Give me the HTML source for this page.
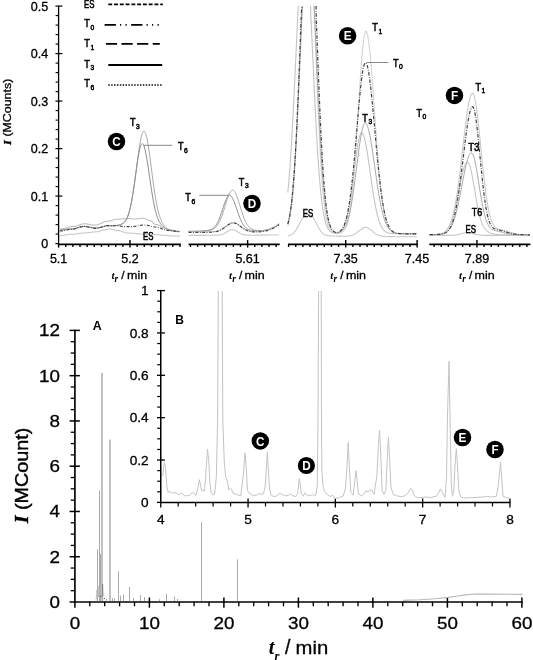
<!DOCTYPE html>
<html><head><meta charset="utf-8"><style>
html,body{margin:0;padding:0;background:#fff;width:533px;height:660px;overflow:hidden}
svg{display:block;will-change:transform}
</style></head><body>
<svg width="533" height="660" viewBox="0 0 533 660">
<rect width="533" height="660" fill="#fff"/>
<line x1="58.60" y1="5.70" x2="58.60" y2="244.90" stroke="#000" stroke-width="1.3" />
<line x1="55.40" y1="243.60" x2="58.60" y2="243.60" stroke="#000" stroke-width="1.2" />
<line x1="55.60" y1="234.10" x2="58.60" y2="234.10" stroke="#000" stroke-width="1.1" />
<line x1="55.60" y1="224.60" x2="58.60" y2="224.60" stroke="#000" stroke-width="1.1" />
<line x1="55.60" y1="215.10" x2="58.60" y2="215.10" stroke="#000" stroke-width="1.1" />
<line x1="55.60" y1="205.60" x2="58.60" y2="205.60" stroke="#000" stroke-width="1.1" />
<line x1="55.40" y1="196.10" x2="62.40" y2="196.10" stroke="#000" stroke-width="1.2" />
<line x1="55.60" y1="186.60" x2="58.60" y2="186.60" stroke="#000" stroke-width="1.1" />
<line x1="55.60" y1="177.10" x2="58.60" y2="177.10" stroke="#000" stroke-width="1.1" />
<line x1="55.60" y1="167.60" x2="58.60" y2="167.60" stroke="#000" stroke-width="1.1" />
<line x1="55.60" y1="158.10" x2="58.60" y2="158.10" stroke="#000" stroke-width="1.1" />
<line x1="55.40" y1="148.60" x2="62.40" y2="148.60" stroke="#000" stroke-width="1.2" />
<line x1="55.60" y1="139.10" x2="58.60" y2="139.10" stroke="#000" stroke-width="1.1" />
<line x1="55.60" y1="129.60" x2="58.60" y2="129.60" stroke="#000" stroke-width="1.1" />
<line x1="55.60" y1="120.10" x2="58.60" y2="120.10" stroke="#000" stroke-width="1.1" />
<line x1="55.60" y1="110.60" x2="58.60" y2="110.60" stroke="#000" stroke-width="1.1" />
<line x1="55.40" y1="101.10" x2="62.40" y2="101.10" stroke="#000" stroke-width="1.2" />
<line x1="55.60" y1="91.60" x2="58.60" y2="91.60" stroke="#000" stroke-width="1.1" />
<line x1="55.60" y1="82.10" x2="58.60" y2="82.10" stroke="#000" stroke-width="1.1" />
<line x1="55.60" y1="72.60" x2="58.60" y2="72.60" stroke="#000" stroke-width="1.1" />
<line x1="55.60" y1="63.10" x2="58.60" y2="63.10" stroke="#000" stroke-width="1.1" />
<line x1="55.40" y1="53.60" x2="62.40" y2="53.60" stroke="#000" stroke-width="1.2" />
<line x1="55.60" y1="44.10" x2="58.60" y2="44.10" stroke="#000" stroke-width="1.1" />
<line x1="55.60" y1="34.60" x2="58.60" y2="34.60" stroke="#000" stroke-width="1.1" />
<line x1="55.60" y1="25.10" x2="58.60" y2="25.10" stroke="#000" stroke-width="1.1" />
<line x1="55.60" y1="15.60" x2="58.60" y2="15.60" stroke="#000" stroke-width="1.1" />
<line x1="55.40" y1="6.10" x2="62.40" y2="6.10" stroke="#000" stroke-width="1.2" />
<text transform="translate(48.30,248.20) scale(1.03,1)" font-family="Liberation Sans" font-size="12.2" text-anchor="end" font-weight="normal" font-style="normal" fill="#000"  stroke="#000" stroke-width="0.3">0</text>
<text transform="translate(48.30,200.70) scale(1.03,1)" font-family="Liberation Sans" font-size="12.2" text-anchor="end" font-weight="normal" font-style="normal" fill="#000"  stroke="#000" stroke-width="0.3">0.1</text>
<text transform="translate(48.30,153.20) scale(1.03,1)" font-family="Liberation Sans" font-size="12.2" text-anchor="end" font-weight="normal" font-style="normal" fill="#000"  stroke="#000" stroke-width="0.3">0.2</text>
<text transform="translate(48.30,105.70) scale(1.03,1)" font-family="Liberation Sans" font-size="12.2" text-anchor="end" font-weight="normal" font-style="normal" fill="#000"  stroke="#000" stroke-width="0.3">0.3</text>
<text transform="translate(48.30,58.20) scale(1.03,1)" font-family="Liberation Sans" font-size="12.2" text-anchor="end" font-weight="normal" font-style="normal" fill="#000"  stroke="#000" stroke-width="0.3">0.4</text>
<text transform="translate(48.30,10.70) scale(1.03,1)" font-family="Liberation Sans" font-size="12.2" text-anchor="end" font-weight="normal" font-style="normal" fill="#000"  stroke="#000" stroke-width="0.3">0.5</text>
<text transform="translate(10.9,111.8) rotate(-90) scale(1.15,1)" font-family="Liberation Sans" font-size="10.8" stroke="#000" stroke-width="0.3" text-anchor="middle"><tspan font-family="Liberation Serif" font-style="italic" font-weight="bold">I</tspan> (MCounts)</text>
<text transform="translate(84.00,8.20) scale(0.74,1)" font-family="Liberation Sans" font-size="10.6" fill="#000" stroke="#000" stroke-width="0.55">ES</text>
<text transform="translate(84.30,27.30) scale(0.86,1)" font-family="Liberation Sans" font-size="10.6" fill="#000" stroke="#000" stroke-width="0.55">T<tspan font-size="7.8" dx="0.6" dy="2.5">0</tspan></text>
<text transform="translate(84.30,47.30) scale(0.86,1)" font-family="Liberation Sans" font-size="10.6" fill="#000" stroke="#000" stroke-width="0.55">T<tspan font-size="7.8" dx="0.6" dy="2.5">1</tspan></text>
<text transform="translate(84.30,67.80) scale(0.86,1)" font-family="Liberation Sans" font-size="10.6" fill="#000" stroke="#000" stroke-width="0.55">T<tspan font-size="7.8" dx="0.6" dy="2.5">3</tspan></text>
<text transform="translate(84.30,87.20) scale(0.86,1)" font-family="Liberation Sans" font-size="10.6" fill="#000" stroke="#000" stroke-width="0.55">T<tspan font-size="7.8" dx="0.6" dy="2.5">6</tspan></text>
<line x1="108.30" y1="4.30" x2="162.80" y2="4.30" stroke="#000" stroke-width="1.7" stroke-dasharray="3.9,1.87"/>
<line x1="104.60" y1="24.80" x2="158.80" y2="24.80" stroke="#000" stroke-width="1.7" stroke-dasharray="11.3,4.1,1.2,4.3,1.2,4.4"/>
<line x1="105.90" y1="43.80" x2="159.80" y2="43.80" stroke="#000" stroke-width="1.8" stroke-dasharray="11.2,4.4"/>
<line x1="108.30" y1="64.90" x2="162.20" y2="64.90" stroke="#000" stroke-width="2.0" />
<line x1="108.30" y1="85.00" x2="161.80" y2="85.00" stroke="#000" stroke-width="1.7" stroke-dasharray="1.45,1.43"/>
<line x1="58.00" y1="244.30" x2="180.80" y2="244.30" stroke="#000" stroke-width="1.7" />
<line x1="58.60" y1="244.30" x2="58.60" y2="247.60" stroke="#000" stroke-width="1.4" />
<line x1="65.74" y1="244.30" x2="65.74" y2="246.90" stroke="#000" stroke-width="1.4" />
<line x1="72.88" y1="244.30" x2="72.88" y2="246.90" stroke="#000" stroke-width="1.4" />
<line x1="80.02" y1="244.30" x2="80.02" y2="246.90" stroke="#000" stroke-width="1.4" />
<line x1="87.16" y1="244.30" x2="87.16" y2="246.90" stroke="#000" stroke-width="1.4" />
<line x1="94.30" y1="244.30" x2="94.30" y2="246.90" stroke="#000" stroke-width="1.4" />
<line x1="101.44" y1="244.30" x2="101.44" y2="246.90" stroke="#000" stroke-width="1.4" />
<line x1="108.58" y1="244.30" x2="108.58" y2="246.90" stroke="#000" stroke-width="1.4" />
<line x1="115.72" y1="244.30" x2="115.72" y2="246.90" stroke="#000" stroke-width="1.4" />
<line x1="122.86" y1="244.30" x2="122.86" y2="246.90" stroke="#000" stroke-width="1.4" />
<line x1="130.00" y1="240.10" x2="130.00" y2="247.60" stroke="#000" stroke-width="1.4" />
<line x1="137.14" y1="244.30" x2="137.14" y2="246.90" stroke="#000" stroke-width="1.4" />
<line x1="144.28" y1="244.30" x2="144.28" y2="246.90" stroke="#000" stroke-width="1.4" />
<line x1="151.42" y1="244.30" x2="151.42" y2="246.90" stroke="#000" stroke-width="1.4" />
<line x1="158.56" y1="244.30" x2="158.56" y2="246.90" stroke="#000" stroke-width="1.4" />
<line x1="165.70" y1="244.30" x2="165.70" y2="246.90" stroke="#000" stroke-width="1.4" />
<line x1="172.84" y1="244.30" x2="172.84" y2="246.90" stroke="#000" stroke-width="1.4" />
<line x1="179.98" y1="244.30" x2="179.98" y2="246.90" stroke="#000" stroke-width="1.4" />
<text transform="translate(58.60,263.40) scale(1.03,1)" font-family="Liberation Sans" font-size="12.2" text-anchor="middle" font-weight="normal" font-style="normal" fill="#000"  stroke="#000" stroke-width="0.3">5.1</text>
<text transform="translate(129.90,263.40) scale(1.03,1)" font-family="Liberation Sans" font-size="12.2" text-anchor="middle" font-weight="normal" font-style="normal" fill="#000"  stroke="#000" stroke-width="0.3">5.2</text>
<line x1="188.60" y1="244.30" x2="279.70" y2="244.30" stroke="#000" stroke-width="1.7" />
<line x1="190.50" y1="244.30" x2="190.50" y2="246.90" stroke="#000" stroke-width="1.4" />
<line x1="197.64" y1="244.30" x2="197.64" y2="246.90" stroke="#000" stroke-width="1.4" />
<line x1="204.78" y1="244.30" x2="204.78" y2="246.90" stroke="#000" stroke-width="1.4" />
<line x1="211.92" y1="244.30" x2="211.92" y2="246.90" stroke="#000" stroke-width="1.4" />
<line x1="219.06" y1="244.30" x2="219.06" y2="246.90" stroke="#000" stroke-width="1.4" />
<line x1="226.20" y1="244.30" x2="226.20" y2="246.90" stroke="#000" stroke-width="1.4" />
<line x1="233.34" y1="244.30" x2="233.34" y2="246.90" stroke="#000" stroke-width="1.4" />
<line x1="240.48" y1="244.30" x2="240.48" y2="246.90" stroke="#000" stroke-width="1.4" />
<line x1="247.62" y1="240.10" x2="247.62" y2="247.60" stroke="#000" stroke-width="1.4" />
<line x1="254.76" y1="244.30" x2="254.76" y2="246.90" stroke="#000" stroke-width="1.4" />
<line x1="261.90" y1="244.30" x2="261.90" y2="246.90" stroke="#000" stroke-width="1.4" />
<line x1="269.04" y1="244.30" x2="269.04" y2="246.90" stroke="#000" stroke-width="1.4" />
<line x1="276.18" y1="244.30" x2="276.18" y2="246.90" stroke="#000" stroke-width="1.4" />
<text transform="translate(247.60,263.40) scale(1.03,1)" font-family="Liberation Sans" font-size="12.2" text-anchor="middle" font-weight="normal" font-style="normal" fill="#000"  stroke="#000" stroke-width="0.3">5.61</text>
<line x1="288.00" y1="244.30" x2="417.60" y2="244.30" stroke="#000" stroke-width="1.7" />
<line x1="288.60" y1="244.30" x2="288.60" y2="246.90" stroke="#000" stroke-width="1.4" />
<line x1="295.74" y1="244.30" x2="295.74" y2="246.90" stroke="#000" stroke-width="1.4" />
<line x1="302.88" y1="244.30" x2="302.88" y2="246.90" stroke="#000" stroke-width="1.4" />
<line x1="310.02" y1="244.30" x2="310.02" y2="246.90" stroke="#000" stroke-width="1.4" />
<line x1="317.16" y1="244.30" x2="317.16" y2="246.90" stroke="#000" stroke-width="1.4" />
<line x1="324.30" y1="244.30" x2="324.30" y2="246.90" stroke="#000" stroke-width="1.4" />
<line x1="331.44" y1="244.30" x2="331.44" y2="246.90" stroke="#000" stroke-width="1.4" />
<line x1="338.58" y1="244.30" x2="338.58" y2="246.90" stroke="#000" stroke-width="1.4" />
<line x1="345.72" y1="240.10" x2="345.72" y2="247.60" stroke="#000" stroke-width="1.4" />
<line x1="352.86" y1="244.30" x2="352.86" y2="246.90" stroke="#000" stroke-width="1.4" />
<line x1="360.00" y1="244.30" x2="360.00" y2="246.90" stroke="#000" stroke-width="1.4" />
<line x1="367.14" y1="244.30" x2="367.14" y2="246.90" stroke="#000" stroke-width="1.4" />
<line x1="374.28" y1="244.30" x2="374.28" y2="246.90" stroke="#000" stroke-width="1.4" />
<line x1="381.42" y1="244.30" x2="381.42" y2="246.90" stroke="#000" stroke-width="1.4" />
<line x1="388.56" y1="244.30" x2="388.56" y2="246.90" stroke="#000" stroke-width="1.4" />
<line x1="395.70" y1="244.30" x2="395.70" y2="246.90" stroke="#000" stroke-width="1.4" />
<line x1="402.84" y1="244.30" x2="402.84" y2="246.90" stroke="#000" stroke-width="1.4" />
<line x1="409.98" y1="244.30" x2="409.98" y2="246.90" stroke="#000" stroke-width="1.4" />
<line x1="417.12" y1="240.10" x2="417.12" y2="247.60" stroke="#000" stroke-width="1.4" />
<text transform="translate(345.60,263.40) scale(1.03,1)" font-family="Liberation Sans" font-size="12.2" text-anchor="middle" font-weight="normal" font-style="normal" fill="#000"  stroke="#000" stroke-width="0.3">7.35</text>
<text transform="translate(417.00,263.40) scale(1.03,1)" font-family="Liberation Sans" font-size="12.2" text-anchor="middle" font-weight="normal" font-style="normal" fill="#000"  stroke="#000" stroke-width="0.3">7.45</text>
<line x1="429.30" y1="244.30" x2="530.40" y2="244.30" stroke="#000" stroke-width="1.7" />
<line x1="434.10" y1="244.30" x2="434.10" y2="246.90" stroke="#000" stroke-width="1.4" />
<line x1="441.24" y1="244.30" x2="441.24" y2="246.90" stroke="#000" stroke-width="1.4" />
<line x1="448.38" y1="244.30" x2="448.38" y2="246.90" stroke="#000" stroke-width="1.4" />
<line x1="455.52" y1="244.30" x2="455.52" y2="246.90" stroke="#000" stroke-width="1.4" />
<line x1="462.66" y1="244.30" x2="462.66" y2="246.90" stroke="#000" stroke-width="1.4" />
<line x1="469.80" y1="244.30" x2="469.80" y2="246.90" stroke="#000" stroke-width="1.4" />
<line x1="476.94" y1="240.10" x2="476.94" y2="247.60" stroke="#000" stroke-width="1.4" />
<line x1="484.08" y1="244.30" x2="484.08" y2="246.90" stroke="#000" stroke-width="1.4" />
<line x1="491.22" y1="244.30" x2="491.22" y2="246.90" stroke="#000" stroke-width="1.4" />
<line x1="498.36" y1="244.30" x2="498.36" y2="246.90" stroke="#000" stroke-width="1.4" />
<line x1="505.50" y1="244.30" x2="505.50" y2="246.90" stroke="#000" stroke-width="1.4" />
<line x1="512.64" y1="244.30" x2="512.64" y2="246.90" stroke="#000" stroke-width="1.4" />
<line x1="519.78" y1="244.30" x2="519.78" y2="246.90" stroke="#000" stroke-width="1.4" />
<line x1="526.92" y1="244.30" x2="526.92" y2="246.90" stroke="#000" stroke-width="1.4" />
<text transform="translate(477.00,263.40) scale(1.03,1)" font-family="Liberation Sans" font-size="12.2" text-anchor="middle" font-weight="normal" font-style="normal" fill="#000"  stroke="#000" stroke-width="0.3">7.89</text>
<text x="111.40" y="278.90" font-family="Liberation Serif" font-size="11" text-anchor="start" font-weight="bold" font-style="italic" fill="#000" >t</text>
<text x="114.60" y="282.10" font-family="Liberation Serif" font-size="9.4" text-anchor="start" font-weight="bold" font-style="italic" fill="#000" >r</text>
<text transform="translate(121.30,278.90) scale(1.05,1)" font-family="Liberation Sans" font-size="11.2" text-anchor="start" font-weight="normal" font-style="normal" fill="#000"  stroke="#000" stroke-width="0.3">/</text>
<text transform="translate(127.00,278.90) scale(1.07,1)" font-family="Liberation Sans" font-size="11.7" text-anchor="start" font-weight="normal" font-style="normal" fill="#000"  stroke="#000" stroke-width="0.3">min</text>
<text x="229.00" y="278.90" font-family="Liberation Serif" font-size="11" text-anchor="start" font-weight="bold" font-style="italic" fill="#000" >t</text>
<text x="232.20" y="282.10" font-family="Liberation Serif" font-size="9.4" text-anchor="start" font-weight="bold" font-style="italic" fill="#000" >r</text>
<text transform="translate(238.90,278.90) scale(1.05,1)" font-family="Liberation Sans" font-size="11.2" text-anchor="start" font-weight="normal" font-style="normal" fill="#000"  stroke="#000" stroke-width="0.3">/</text>
<text transform="translate(244.60,278.90) scale(1.07,1)" font-family="Liberation Sans" font-size="11.7" text-anchor="start" font-weight="normal" font-style="normal" fill="#000"  stroke="#000" stroke-width="0.3">min</text>
<text x="330.30" y="278.90" font-family="Liberation Serif" font-size="11" text-anchor="start" font-weight="bold" font-style="italic" fill="#000" >t</text>
<text x="333.50" y="282.10" font-family="Liberation Serif" font-size="9.4" text-anchor="start" font-weight="bold" font-style="italic" fill="#000" >r</text>
<text transform="translate(340.20,278.90) scale(1.05,1)" font-family="Liberation Sans" font-size="11.2" text-anchor="start" font-weight="normal" font-style="normal" fill="#000"  stroke="#000" stroke-width="0.3">/</text>
<text transform="translate(345.90,278.90) scale(1.07,1)" font-family="Liberation Sans" font-size="11.7" text-anchor="start" font-weight="normal" font-style="normal" fill="#000"  stroke="#000" stroke-width="0.3">min</text>
<text x="459.00" y="278.90" font-family="Liberation Serif" font-size="11" text-anchor="start" font-weight="bold" font-style="italic" fill="#000" >t</text>
<text x="462.20" y="282.10" font-family="Liberation Serif" font-size="9.4" text-anchor="start" font-weight="bold" font-style="italic" fill="#000" >r</text>
<text transform="translate(468.90,278.90) scale(1.05,1)" font-family="Liberation Sans" font-size="11.2" text-anchor="start" font-weight="normal" font-style="normal" fill="#000"  stroke="#000" stroke-width="0.3">/</text>
<text transform="translate(474.60,278.90) scale(1.07,1)" font-family="Liberation Sans" font-size="11.7" text-anchor="start" font-weight="normal" font-style="normal" fill="#000"  stroke="#000" stroke-width="0.3">min</text>
<path d="M59.80,235.60 L60.30,235.60 L60.80,235.59 L61.30,235.56 L61.80,235.53 L62.30,235.49 L62.80,235.43 L63.30,235.37 L63.80,235.30 L64.30,235.23 L64.80,235.15 L65.30,235.07 L65.80,234.98 L66.30,234.90 L66.80,234.81 L67.30,234.73 L67.80,234.65 L68.30,234.58 L68.80,234.52 L69.30,234.46 L69.80,234.40 L70.30,234.36 L70.80,234.33 L71.30,234.31 L71.80,234.30 L72.30,234.30 L72.80,234.29 L73.30,234.26 L73.80,234.23 L74.30,234.19 L74.80,234.14 L75.30,234.08 L75.80,234.02 L76.30,233.95 L76.80,233.87 L77.30,233.79 L77.80,233.71 L78.30,233.63 L78.80,233.54 L79.30,233.46 L79.80,233.38 L80.30,233.31 L80.80,233.24 L81.30,233.18 L81.80,233.13 L82.30,233.08 L82.80,233.05 L83.30,233.02 L83.80,233.01 L84.30,233.00 L84.80,233.00 L85.30,232.98 L85.80,232.96 L86.30,232.93 L86.80,232.89 L87.30,232.84 L87.80,232.78 L88.30,232.72 L88.80,232.66 L89.30,232.59 L89.80,232.51 L90.30,232.44 L90.80,232.36 L91.30,232.28 L91.80,232.20 L92.30,232.13 L92.80,232.06 L93.30,231.99 L93.80,231.93 L94.30,231.87 L94.80,231.82 L95.30,231.78 L95.80,231.75 L96.30,231.72 L96.80,231.71 L97.30,231.70 L97.80,231.68 L98.30,231.62 L98.80,231.52 L99.30,231.38 L99.80,231.20 L100.30,231.01 L100.80,230.81 L101.30,230.61 L101.80,230.43 L102.30,230.26 L102.80,230.13 L103.30,230.05 L103.80,230.00 L104.30,229.99 L104.80,229.94 L105.30,229.85 L105.80,229.73 L106.30,229.59 L106.80,229.44 L107.30,229.29 L107.80,229.17 L108.30,229.07 L108.80,229.01 L109.30,229.00 L109.80,229.02 L110.30,229.07 L110.80,229.14 L111.30,229.23 L111.80,229.34 L112.30,229.47 L112.80,229.60 L113.30,229.74 L113.80,229.88 L114.30,230.01 L114.80,230.13 L115.30,230.23 L115.80,230.31 L116.30,230.36 L116.80,230.40 L117.30,230.40 L117.80,230.43 L118.30,230.48 L118.80,230.55 L119.30,230.65 L119.80,230.77 L120.30,230.91 L120.80,231.07 L121.30,231.24 L121.80,231.42 L122.30,231.61 L122.80,231.79 L123.30,231.98 L123.80,232.16 L124.30,232.33 L124.80,232.49 L125.30,232.63 L125.80,232.75 L126.30,232.85 L126.80,232.92 L127.30,232.97 L127.80,233.00 L128.30,233.00 L128.80,233.01 L129.30,233.02 L129.80,233.04 L130.30,233.06 L130.80,233.09 L131.30,233.12 L131.80,233.16 L132.30,233.20 L132.80,233.24 L133.30,233.29 L133.80,233.34 L134.30,233.40 L134.80,233.45 L135.30,233.51 L135.80,233.56 L136.30,233.62 L136.80,233.67 L137.30,233.73 L137.80,233.78 L138.30,233.83 L138.80,233.88 L139.30,233.92 L139.80,233.96 L140.30,233.99 L140.80,234.02 L141.30,234.05 L141.80,234.07 L142.30,234.09 L142.80,234.10 L143.30,234.10 L143.80,234.10 L144.30,234.10 L144.80,234.11 L145.30,234.11 L145.80,234.12 L146.30,234.13 L146.80,234.14 L147.30,234.16 L147.80,234.17 L148.30,234.19 L148.80,234.21 L149.30,234.23 L149.80,234.25 L150.30,234.27 L150.80,234.30 L151.30,234.32 L151.80,234.35 L152.30,234.38 L152.80,234.41 L153.30,234.44 L153.80,234.47 L154.30,234.51 L154.80,234.54 L155.30,234.58 L155.80,234.61 L156.30,234.65 L156.80,234.69 L157.30,234.73 L157.80,234.77 L158.30,234.81 L158.80,234.85 L159.30,234.90 L159.80,234.94 L160.30,234.98 L160.80,235.02 L161.30,235.07 L161.80,235.11 L162.30,235.15 L162.80,235.19 L163.30,235.24 L163.80,235.28 L164.30,235.32 L164.80,235.36 L165.30,235.40 L165.80,235.44 L166.30,235.48 L166.80,235.52 L167.30,235.56 L167.80,235.60 L168.30,235.64 L168.80,235.67 L169.30,235.71 L169.80,235.74 L170.30,235.77 L170.80,235.80 L171.30,235.83 L171.80,235.86 L172.30,235.89 L172.80,235.92 L173.30,235.94 L173.80,235.96 L174.30,235.98 L174.80,236.00 L175.30,236.02 L175.80,236.04 L176.30,236.05 L176.80,236.06 L177.30,236.07 L177.80,236.08 L178.30,236.09 L178.80,236.09 L179.30,236.10 L179.80,236.10" fill="none" stroke="#c8c8c8" stroke-width="1.1" stroke-linejoin="round" />
<path d="M59.80,229.00 L60.30,229.00 L60.80,228.98 L61.30,228.94 L61.80,228.89 L62.30,228.83 L62.80,228.74 L63.30,228.65 L63.80,228.54 L64.30,228.43 L64.80,228.30 L65.30,228.16 L65.80,228.02 L66.30,227.88 L66.80,227.73 L67.30,227.58 L67.80,227.44 L68.30,227.29 L68.80,227.16 L69.30,227.02 L69.80,226.90 L70.30,226.79 L70.80,226.69 L71.30,226.60 L71.80,226.53 L72.30,226.48 L72.80,226.43 L73.30,226.41 L73.80,226.40 L74.30,226.39 L74.80,226.34 L75.30,226.27 L75.80,226.17 L76.30,226.05 L76.80,225.91 L77.30,225.75 L77.80,225.57 L78.30,225.39 L78.80,225.20 L79.30,225.00 L79.80,224.81 L80.30,224.63 L80.80,224.45 L81.30,224.29 L81.80,224.15 L82.30,224.03 L82.80,223.93 L83.30,223.86 L83.80,223.81 L84.30,223.80 L84.80,223.81 L85.30,223.83 L85.80,223.86 L86.30,223.91 L86.80,223.97 L87.30,224.04 L87.80,224.12 L88.30,224.21 L88.80,224.31 L89.30,224.40 L89.80,224.50 L90.30,224.59 L90.80,224.69 L91.30,224.78 L91.80,224.86 L92.30,224.93 L92.80,224.99 L93.30,225.04 L93.80,225.07 L94.30,225.09 L94.80,225.10 L95.30,225.09 L95.80,225.04 L96.30,224.98 L96.80,224.88 L97.30,224.76 L97.80,224.62 L98.30,224.45 L98.80,224.27 L99.30,224.07 L99.80,223.86 L100.30,223.64 L100.80,223.41 L101.30,223.17 L101.80,222.94 L102.30,222.71 L102.80,222.49 L103.30,222.27 L103.80,222.07 L104.30,221.88 L104.80,221.71 L105.30,221.57 L105.80,221.44 L106.30,221.34 L106.80,221.27 L107.30,221.22 L107.80,221.20 L108.30,221.19 L108.80,221.15 L109.30,221.09 L109.80,221.00 L110.30,220.88 L110.80,220.75 L111.30,220.60 L111.80,220.44 L112.30,220.27 L112.80,220.10 L113.30,219.93 L113.80,219.77 L114.30,219.62 L114.80,219.49 L115.30,219.38 L115.80,219.30 L116.30,219.24 L116.80,219.21 L117.30,219.20 L117.80,219.19 L118.30,219.18 L118.80,219.16 L119.30,219.13 L119.80,219.10 L120.30,219.06 L120.80,219.02 L121.30,218.97 L121.80,218.93 L122.30,218.88 L122.80,218.82 L123.30,218.77 L123.80,218.73 L124.30,218.68 L124.80,218.64 L125.30,218.60 L125.80,218.57 L126.30,218.54 L126.80,218.52 L127.30,218.51 L127.80,218.50 L128.30,218.50 L128.80,218.52 L129.30,218.56 L129.80,218.60 L130.30,218.66 L130.80,218.72 L131.30,218.79 L131.80,218.85 L132.30,218.91 L132.80,218.95 L133.30,218.98 L133.80,219.00 L134.30,219.00 L134.80,218.99 L135.30,218.97 L135.80,218.94 L136.30,218.90 L136.80,218.86 L137.30,218.81 L137.80,218.75 L138.30,218.70 L138.80,218.64 L139.30,218.58 L139.80,218.52 L140.30,218.47 L140.80,218.42 L141.30,218.38 L141.80,218.35 L142.30,218.32 L142.80,218.31 L143.30,218.30 L143.80,218.32 L144.30,218.40 L144.80,218.54 L145.30,218.72 L145.80,218.94 L146.30,219.19 L146.80,219.45 L147.30,219.71 L147.80,219.95 L148.30,220.16 L148.80,220.33 L149.30,220.44 L149.80,220.50 L150.30,220.53 L150.80,220.69 L151.30,221.00 L151.80,221.41 L152.30,221.91 L152.80,222.45 L153.30,222.99 L153.80,223.49 L154.30,223.90 L154.80,224.21 L155.30,224.37 L155.80,224.40 L156.30,224.44 L156.80,224.52 L157.30,224.63 L157.80,224.78 L158.30,224.97 L158.80,225.19 L159.30,225.43 L159.80,225.70 L160.30,225.99 L160.80,226.29 L161.30,226.60 L161.80,226.91 L162.30,227.23 L162.80,227.53 L163.30,227.83 L163.80,228.11 L164.30,228.37 L164.80,228.60 L165.30,228.81 L165.80,228.98 L166.30,229.12 L166.80,229.22 L167.30,229.28 L167.80,229.30 L168.30,229.31 L168.80,229.34 L169.30,229.39 L169.80,229.46 L170.30,229.54 L170.80,229.64 L171.30,229.76 L171.80,229.88 L172.30,230.02 L172.80,230.16 L173.30,230.32 L173.80,230.47 L174.30,230.62 L174.80,230.78 L175.30,230.92 L175.80,231.06 L176.30,231.20 L176.80,231.32 L177.30,231.42 L177.80,231.51 L178.30,231.59 L178.80,231.64 L179.30,231.68 L179.80,231.70" fill="none" stroke="#c0c0c0" stroke-width="1.1" stroke-linejoin="round" />
<path d="M59.80,230.00 L60.30,230.00 L60.80,229.99 L61.30,229.97 L61.80,229.94 L62.30,229.90 L62.80,229.85 L63.30,229.79 L63.80,229.73 L64.30,229.67 L64.80,229.60 L65.30,229.53 L65.80,229.46 L66.30,229.39 L66.80,229.32 L67.30,229.25 L67.80,229.19 L68.30,229.14 L68.80,229.10 L69.30,229.06 L69.80,229.03 L70.30,229.01 L70.80,229.00 L71.30,229.00 L71.80,228.98 L72.30,228.94 L72.80,228.88 L73.30,228.81 L73.80,228.72 L74.30,228.62 L74.80,228.51 L75.30,228.38 L75.80,228.25 L76.30,228.11 L76.80,227.96 L77.30,227.81 L77.80,227.66 L78.30,227.51 L78.80,227.36 L79.30,227.22 L79.80,227.09 L80.30,226.97 L80.80,226.86 L81.30,226.76 L81.80,226.67 L82.30,226.60 L82.80,226.55 L83.30,226.52 L83.80,226.50 L84.30,226.50 L84.80,226.52 L85.30,226.54 L85.80,226.58 L86.30,226.63 L86.80,226.69 L87.30,226.76 L87.80,226.84 L88.30,226.93 L88.80,227.02 L89.30,227.11 L89.80,227.21 L90.30,227.31 L90.80,227.40 L91.30,227.50 L91.80,227.59 L92.30,227.67 L92.80,227.75 L93.30,227.82 L93.80,227.88 L94.30,227.92 L94.80,227.96 L95.30,227.98 L95.80,227.99 L96.30,227.99 L96.80,227.97 L97.30,227.93 L97.80,227.88 L98.30,227.81 L98.80,227.73 L99.30,227.64 L99.80,227.53 L100.30,227.41 L100.80,227.29 L101.30,227.16 L101.80,227.03 L102.30,226.89 L102.80,226.76 L103.30,226.63 L103.80,226.50 L104.30,226.39 L104.80,226.28 L105.30,226.18 L105.80,226.09 L106.30,226.02 L106.80,225.97 L107.30,225.92 L107.80,225.90 L108.30,225.89 L108.80,225.88 L109.30,225.87 L109.80,225.86 L110.30,225.85 L110.80,225.85 L111.30,225.84 L111.80,225.83 L112.30,225.82 L112.80,225.81 L113.30,225.80 L113.80,225.78 L114.30,225.76 L114.80,225.73 L115.30,225.70 L115.80,225.66 L116.30,225.62 L116.80,225.56 L117.30,225.49 L117.80,225.41 L118.30,225.32 L118.80,225.22 L119.30,225.10 L119.80,224.96 L120.30,224.81 L120.80,224.63 L121.30,224.42 L121.80,224.17 L122.30,223.89 L122.80,223.56 L123.30,223.17 L123.80,222.72 L124.30,222.21 L124.80,221.61 L125.30,220.93 L125.80,220.15 L126.30,219.27 L126.80,218.28 L127.30,217.16 L127.80,215.90 L128.30,214.50 L128.80,212.95 L129.30,211.23 L129.80,209.35 L130.30,207.28 L130.80,205.03 L131.30,202.60 L131.80,199.98 L132.30,197.18 L132.80,194.20 L133.30,191.05 L133.80,187.74 L134.30,184.29 L134.80,180.71 L135.30,177.04 L135.80,173.28 L136.30,169.48 L136.80,165.67 L137.30,161.87 L137.80,158.13 L138.30,154.48 L138.80,150.97 L139.30,147.63 L139.80,144.50 L140.30,141.61 L140.80,139.02 L141.30,136.74 L141.80,134.80 L142.30,133.24 L142.80,132.08 L143.30,131.32 L143.80,130.99 L144.30,131.08 L144.80,131.60 L145.30,132.54 L145.80,133.88 L146.30,135.61 L146.80,137.71 L147.30,140.15 L147.80,142.90 L148.30,145.93 L148.80,149.20 L149.30,152.66 L149.80,156.29 L150.30,160.04 L150.80,163.87 L151.30,167.75 L151.80,171.64 L152.30,175.50 L152.80,179.31 L153.30,183.03 L153.80,186.64 L154.30,190.11 L154.80,193.44 L155.30,196.60 L155.80,199.59 L156.30,202.39 L156.80,205.01 L157.30,207.44 L157.80,209.67 L158.30,211.72 L158.80,213.59 L159.30,215.29 L159.80,216.82 L160.30,218.20 L160.80,219.45 L161.30,220.60 L161.80,221.64 L162.30,222.60 L162.80,223.47 L163.30,224.27 L163.80,225.00 L164.30,225.67 L164.80,226.28 L165.30,226.84 L165.80,227.36 L166.30,227.83 L166.80,228.26 L167.30,228.65 L167.80,229.01 L168.30,229.33 L168.80,229.61 L169.30,229.86 L169.80,230.07 L170.30,230.25 L170.80,230.39 L171.30,230.50 L171.80,230.57 L172.30,230.62 L172.80,230.68 L173.30,230.73 L173.80,230.79 L174.30,230.85 L174.80,230.92 L175.30,230.99 L175.80,231.06 L176.30,231.12 L176.80,231.19 L177.30,231.25 L177.80,231.30 L178.30,231.34 L178.80,231.38 L179.30,231.41 L179.80,231.43" fill="none" stroke="#a8a8a8" stroke-width="1.0" stroke-linejoin="round" />
<path d="M59.80,230.00 L60.30,230.00 L60.80,229.99 L61.30,229.97 L61.80,229.94 L62.30,229.90 L62.80,229.85 L63.30,229.79 L63.80,229.73 L64.30,229.67 L64.80,229.60 L65.30,229.53 L65.80,229.46 L66.30,229.39 L66.80,229.32 L67.30,229.25 L67.80,229.19 L68.30,229.14 L68.80,229.10 L69.30,229.06 L69.80,229.03 L70.30,229.01 L70.80,229.00 L71.30,229.00 L71.80,228.98 L72.30,228.94 L72.80,228.88 L73.30,228.81 L73.80,228.72 L74.30,228.62 L74.80,228.51 L75.30,228.38 L75.80,228.25 L76.30,228.11 L76.80,227.96 L77.30,227.81 L77.80,227.66 L78.30,227.51 L78.80,227.36 L79.30,227.22 L79.80,227.09 L80.30,226.97 L80.80,226.86 L81.30,226.76 L81.80,226.67 L82.30,226.60 L82.80,226.55 L83.30,226.52 L83.80,226.50 L84.30,226.50 L84.80,226.52 L85.30,226.54 L85.80,226.58 L86.30,226.63 L86.80,226.69 L87.30,226.76 L87.80,226.84 L88.30,226.93 L88.80,227.02 L89.30,227.11 L89.80,227.21 L90.30,227.31 L90.80,227.40 L91.30,227.50 L91.80,227.59 L92.30,227.67 L92.80,227.75 L93.30,227.82 L93.80,227.88 L94.30,227.92 L94.80,227.96 L95.30,227.98 L95.80,227.99 L96.30,227.99 L96.80,227.97 L97.30,227.93 L97.80,227.88 L98.30,227.81 L98.80,227.73 L99.30,227.63 L99.80,227.53 L100.30,227.41 L100.80,227.28 L101.30,227.15 L101.80,227.02 L102.30,226.89 L102.80,226.75 L103.30,226.62 L103.80,226.49 L104.30,226.37 L104.80,226.26 L105.30,226.16 L105.80,226.08 L106.30,226.00 L106.80,225.94 L107.30,225.89 L107.80,225.86 L108.30,225.85 L108.80,225.83 L109.30,225.82 L109.80,225.80 L110.30,225.79 L110.80,225.78 L111.30,225.76 L111.80,225.75 L112.30,225.73 L112.80,225.71 L113.30,225.68 L113.80,225.66 L114.30,225.63 L114.80,225.59 L115.30,225.55 L115.80,225.50 L116.30,225.44 L116.80,225.38 L117.30,225.30 L117.80,225.22 L118.30,225.12 L118.80,225.01 L119.30,224.90 L119.80,224.77 L120.30,224.62 L120.80,224.45 L121.30,224.26 L121.80,224.04 L122.30,223.79 L122.80,223.49 L123.30,223.14 L123.80,222.74 L124.30,222.27 L124.80,221.72 L125.30,221.09 L125.80,220.37 L126.30,219.54 L126.80,218.59 L127.30,217.52 L127.80,216.31 L128.30,214.94 L128.80,213.41 L129.30,211.71 L129.80,209.82 L130.30,207.74 L130.80,205.46 L131.30,202.99 L131.80,200.32 L132.30,197.46 L132.80,194.43 L133.30,191.23 L133.80,187.88 L134.30,184.41 L134.80,180.85 L135.30,177.22 L135.80,173.57 L136.30,169.94 L136.80,166.37 L137.30,162.90 L137.80,159.59 L138.30,156.47 L138.80,153.61 L139.30,151.03 L139.80,148.79 L140.30,146.91 L140.80,145.44 L141.30,144.38 L141.80,143.78 L142.30,143.63 L142.80,143.90 L143.30,144.55 L143.80,145.58 L144.30,146.97 L144.80,148.71 L145.30,150.76 L145.80,153.11 L146.30,155.72 L146.80,158.56 L147.30,161.59 L147.80,164.78 L148.30,168.09 L148.80,171.49 L149.30,174.94 L149.80,178.40 L150.30,181.84 L150.80,185.24 L151.30,188.56 L151.80,191.78 L152.30,194.89 L152.80,197.86 L153.30,200.68 L153.80,203.34 L154.30,205.83 L154.80,208.16 L155.30,210.31 L155.80,212.29 L156.30,214.10 L156.80,215.74 L157.30,217.23 L157.80,218.57 L158.30,219.77 L158.80,220.84 L159.30,221.79 L159.80,222.62 L160.30,223.36 L160.80,224.02 L161.30,224.63 L161.80,225.20 L162.30,225.72 L162.80,226.20 L163.30,226.65 L163.80,227.07 L164.30,227.47 L164.80,227.85 L165.30,228.21 L165.80,228.54 L166.30,228.86 L166.80,229.16 L167.30,229.44 L167.80,229.69 L168.30,229.92 L168.80,230.13 L169.30,230.32 L169.80,230.48 L170.30,230.61 L170.80,230.71 L171.30,230.78 L171.80,230.83 L172.30,230.85 L172.80,230.88 L173.30,230.92 L173.80,230.96 L174.30,231.01 L174.80,231.06 L175.30,231.11 L175.80,231.17 L176.30,231.23 L176.80,231.28 L177.30,231.33 L177.80,231.38 L178.30,231.42 L178.80,231.45 L179.30,231.47 L179.80,231.48" fill="none" stroke="#8a8a8a" stroke-width="1.0" stroke-linejoin="round" />
<path d="M59.80,231.00 L60.30,231.00 L60.80,230.98 L61.30,230.95 L61.80,230.90 L62.30,230.84 L62.80,230.76 L63.30,230.68 L63.80,230.58 L64.30,230.48 L64.80,230.37 L65.30,230.26 L65.80,230.14 L66.30,230.03 L66.80,229.92 L67.30,229.82 L67.80,229.72 L68.30,229.64 L68.80,229.56 L69.30,229.50 L69.80,229.45 L70.30,229.42 L70.80,229.40 L71.30,229.40 L71.80,229.38 L72.30,229.34 L72.80,229.28 L73.30,229.20 L73.80,229.10 L74.30,228.99 L74.80,228.86 L75.30,228.71 L75.80,228.56 L76.30,228.39 L76.80,228.22 L77.30,228.04 L77.80,227.86 L78.30,227.69 L78.80,227.51 L79.30,227.34 L79.80,227.18 L80.30,227.03 L80.80,226.89 L81.30,226.77 L81.80,226.66 L82.30,226.57 L82.80,226.49 L83.30,226.44 L83.80,226.41 L84.30,226.40 L84.80,226.41 L85.30,226.44 L85.80,226.48 L86.30,226.54 L86.80,226.61 L87.30,226.70 L87.80,226.80 L88.30,226.92 L88.80,227.04 L89.30,227.16 L89.80,227.29 L90.30,227.43 L90.80,227.56 L91.30,227.69 L91.80,227.81 L92.30,227.93 L92.80,228.04 L93.30,228.13 L93.80,228.22 L94.30,228.29 L94.80,228.34 L95.30,228.38 L95.80,228.40 L96.30,228.40 L96.80,228.37 L97.30,228.33 L97.80,228.25 L98.30,228.16 L98.80,228.04 L99.30,227.90 L99.80,227.75 L100.30,227.58 L100.80,227.41 L101.30,227.22 L101.80,227.03 L102.30,226.83 L102.80,226.64 L103.30,226.46 L103.80,226.28 L104.30,226.12 L104.80,225.97 L105.30,225.83 L105.80,225.72 L106.30,225.63 L106.80,225.56 L107.30,225.52 L107.80,225.50 L108.30,225.50 L108.80,225.51 L109.30,225.52 L109.80,225.53 L110.30,225.55 L110.80,225.57 L111.30,225.59 L111.80,225.61 L112.30,225.64 L112.80,225.67 L113.30,225.69 L113.80,225.71 L114.30,225.74 L114.80,225.76 L115.30,225.77 L115.80,225.79 L116.30,225.79 L116.80,225.80 L117.30,225.80 L117.80,225.82 L118.30,225.86 L118.80,225.91 L119.30,225.98 L119.80,226.07 L120.30,226.15 L120.80,226.25 L121.30,226.33 L121.80,226.42 L122.30,226.49 L122.80,226.54 L123.30,226.58 L123.80,226.60 L124.30,226.60 L124.80,226.60 L125.30,226.60 L125.80,226.60 L126.30,226.60 L126.80,226.60 L127.30,226.60 L127.80,226.60 L128.30,226.60 L128.80,226.60 L129.30,226.60 L129.80,226.60 L130.30,226.60 L130.80,226.60 L131.30,226.60 L131.80,226.59 L132.30,226.57 L132.80,226.54 L133.30,226.50 L133.80,226.46 L134.30,226.40 L134.80,226.33 L135.30,226.26 L135.80,226.18 L136.30,226.09 L136.80,226.00 L137.30,225.91 L137.80,225.82 L138.30,225.73 L138.80,225.63 L139.30,225.54 L139.80,225.46 L140.30,225.37 L140.80,225.30 L141.30,225.23 L141.80,225.17 L142.30,225.11 L142.80,225.07 L143.30,225.04 L143.80,225.01 L144.30,225.00 L144.80,225.00 L145.30,225.02 L145.80,225.06 L146.30,225.12 L146.80,225.19 L147.30,225.28 L147.80,225.39 L148.30,225.51 L148.80,225.64 L149.30,225.77 L149.80,225.91 L150.30,226.06 L150.80,226.20 L151.30,226.34 L151.80,226.47 L152.30,226.59 L152.80,226.70 L153.30,226.79 L153.80,226.87 L154.30,226.93 L154.80,226.97 L155.30,227.00 L155.80,227.00 L156.30,227.03 L156.80,227.08 L157.30,227.17 L157.80,227.27 L158.30,227.41 L158.80,227.56 L159.30,227.74 L159.80,227.93 L160.30,228.13 L160.80,228.35 L161.30,228.57 L161.80,228.80 L162.30,229.02 L162.80,229.24 L163.30,229.45 L163.80,229.65 L164.30,229.84 L164.80,230.00 L165.30,230.15 L165.80,230.27 L166.30,230.37 L166.80,230.44 L167.30,230.49 L167.80,230.50 L168.30,230.50 L168.80,230.52 L169.30,230.54 L169.80,230.58 L170.30,230.62 L170.80,230.67 L171.30,230.73 L171.80,230.79 L172.30,230.86 L172.80,230.93 L173.30,231.01 L173.80,231.08 L174.30,231.16 L174.80,231.24 L175.30,231.31 L175.80,231.38 L176.30,231.45 L176.80,231.51 L177.30,231.56 L177.80,231.61 L178.30,231.64 L178.80,231.67 L179.30,231.69 L179.80,231.70" fill="none" stroke="#404040" stroke-width="1.1" stroke-dasharray="3,1.5,0.8,1.5" stroke-linejoin="round" />
<path d="M188.60,235.40 L189.10,235.40 L189.60,235.40 L190.10,235.40 L190.60,235.40 L191.10,235.40 L191.60,235.40 L192.10,235.39 L192.60,235.39 L193.10,235.39 L193.60,235.39 L194.10,235.39 L194.60,235.39 L195.10,235.38 L195.60,235.38 L196.10,235.38 L196.60,235.38 L197.10,235.37 L197.60,235.37 L198.10,235.37 L198.60,235.37 L199.10,235.36 L199.60,235.36 L200.10,235.36 L200.60,235.36 L201.10,235.35 L201.60,235.35 L202.10,235.35 L202.60,235.34 L203.10,235.34 L203.60,235.34 L204.10,235.34 L204.60,235.33 L205.10,235.33 L205.60,235.33 L206.10,235.32 L206.60,235.32 L207.10,235.32 L207.60,235.32 L208.10,235.32 L208.60,235.31 L209.10,235.31 L209.60,235.31 L210.10,235.31 L210.60,235.31 L211.10,235.30 L211.60,235.30 L212.10,235.30 L212.60,235.30 L213.10,235.29 L213.60,235.29 L214.10,235.28 L214.60,235.28 L215.10,235.27 L215.60,235.26 L216.10,235.25 L216.60,235.23 L217.10,235.21 L217.60,235.18 L218.10,235.14 L218.60,235.10 L219.10,235.04 L219.60,234.98 L220.10,234.90 L220.60,234.80 L221.10,234.69 L221.60,234.56 L222.10,234.41 L222.60,234.24 L223.10,234.04 L223.60,233.83 L224.10,233.59 L224.60,233.33 L225.10,233.05 L225.60,232.76 L226.10,232.45 L226.60,232.13 L227.10,231.81 L227.60,231.49 L228.10,231.17 L228.60,230.87 L229.10,230.59 L229.60,230.34 L230.10,230.12 L230.60,229.94 L231.10,229.79 L231.60,229.70 L232.10,229.65 L232.60,229.65 L233.10,229.71 L233.60,229.81 L234.10,229.95 L234.60,230.14 L235.10,230.36 L235.60,230.62 L236.10,230.90 L236.60,231.20 L237.10,231.51 L237.60,231.83 L238.10,232.14 L238.60,232.46 L239.10,232.76 L239.60,233.05 L240.10,233.32 L240.60,233.57 L241.10,233.80 L241.60,234.01 L242.10,234.19 L242.60,234.36 L243.10,234.50 L243.60,234.63 L244.10,234.73 L244.60,234.82 L245.10,234.90 L245.60,234.96 L246.10,235.01 L246.60,235.05 L247.10,235.09 L247.60,235.11 L248.10,235.13 L248.60,235.15 L249.10,235.16 L249.60,235.17 L250.10,235.18 L250.60,235.18 L251.10,235.19 L251.60,235.19 L252.10,235.19 L252.60,235.19 L253.10,235.19 L253.60,235.18 L254.10,235.18 L254.60,235.18 L255.10,235.18 L255.60,235.17 L256.10,235.17 L256.60,235.17 L257.10,235.16 L257.60,235.16 L258.10,235.15 L258.60,235.15 L259.10,235.15 L259.60,235.14 L260.10,235.14 L260.60,235.13 L261.10,235.13 L261.60,235.12 L262.10,235.12 L262.60,235.11 L263.10,235.11 L263.60,235.10 L264.10,235.10 L264.60,235.09 L265.10,235.09 L265.60,235.08 L266.10,235.08 L266.60,235.07 L267.10,235.07 L267.60,235.07 L268.10,235.06 L268.60,235.06 L269.10,235.05 L269.60,235.05 L270.10,235.04 L270.60,235.04 L271.10,235.04 L271.60,235.03 L272.10,235.03 L272.60,235.03 L273.10,235.02 L273.60,235.02 L274.10,235.02 L274.60,235.01 L275.10,235.01 L275.60,235.01 L276.10,235.01 L276.60,235.01 L277.10,235.00 L277.60,235.00 L278.10,235.00 L278.60,235.00 L279.10,235.00" fill="none" stroke="#c8c8c8" stroke-width="1.1" stroke-linejoin="round" />
<path d="M188.60,231.38 L189.10,231.37 L189.60,231.37 L190.10,231.37 L190.60,231.36 L191.10,231.36 L191.60,231.35 L192.10,231.35 L192.60,231.34 L193.10,231.34 L193.60,231.33 L194.10,231.32 L194.60,231.32 L195.10,231.31 L195.60,231.30 L196.10,231.29 L196.60,231.28 L197.10,231.27 L197.60,231.25 L198.10,231.24 L198.60,231.22 L199.10,231.21 L199.60,231.19 L200.10,231.17 L200.60,231.15 L201.10,231.13 L201.60,231.11 L202.10,231.09 L202.60,231.06 L203.10,231.03 L203.60,231.00 L204.10,230.97 L204.60,230.93 L205.10,230.89 L205.60,230.85 L206.10,230.81 L206.60,230.75 L207.10,230.70 L207.60,230.63 L208.10,230.56 L208.60,230.49 L209.10,230.40 L209.60,230.30 L210.10,230.19 L210.60,230.06 L211.10,229.91 L211.60,229.75 L212.10,229.56 L212.60,229.35 L213.10,229.11 L213.60,228.84 L214.10,228.53 L214.60,228.18 L215.10,227.78 L215.60,227.34 L216.10,226.84 L216.60,226.28 L217.10,225.67 L217.60,224.98 L218.10,224.23 L218.60,223.40 L219.10,222.49 L219.60,221.51 L220.10,220.45 L220.60,219.30 L221.10,218.08 L221.60,216.78 L222.10,215.42 L222.60,213.98 L223.10,212.48 L223.60,210.94 L224.10,209.35 L224.60,207.73 L225.10,206.09 L225.60,204.45 L226.10,202.82 L226.60,201.22 L227.10,199.67 L227.60,198.17 L228.10,196.76 L228.60,195.44 L229.10,194.23 L229.60,193.15 L230.10,192.21 L230.60,191.43 L231.10,190.81 L231.60,190.36 L232.10,190.09 L232.60,190.00 L233.10,190.10 L233.60,190.38 L234.10,190.84 L234.60,191.47 L235.10,192.26 L235.60,193.21 L236.10,194.30 L236.60,195.51 L237.10,196.84 L237.60,198.26 L238.10,199.76 L238.60,201.32 L239.10,202.93 L239.60,204.56 L240.10,206.21 L240.60,207.85 L241.10,209.47 L241.60,211.07 L242.10,212.62 L242.60,214.12 L243.10,215.56 L243.60,216.93 L244.10,218.23 L244.60,219.45 L245.10,220.59 L245.60,221.66 L246.10,222.64 L246.60,223.54 L247.10,224.37 L247.60,225.12 L248.10,225.80 L248.60,226.42 L249.10,226.97 L249.60,227.46 L250.10,227.90 L250.60,228.29 L251.10,228.63 L251.60,228.93 L252.10,229.19 L252.60,229.42 L253.10,229.62 L253.60,229.79 L254.10,229.94 L254.60,230.07 L255.10,230.17 L255.60,230.27 L256.10,230.34 L256.60,230.41 L257.10,230.46 L257.60,230.50 L258.10,230.53 L258.60,230.55 L259.10,230.56 L259.60,230.56 L260.10,230.56 L260.60,230.55 L261.10,230.53 L261.60,230.50 L262.10,230.46 L262.60,230.42 L263.10,230.37 L263.60,230.31 L264.10,230.24 L264.60,230.17 L265.10,230.08 L265.60,229.99 L266.10,229.88 L266.60,229.77 L267.10,229.64 L267.60,229.51 L268.10,229.37 L268.60,229.21 L269.10,229.04 L269.60,228.87 L270.10,228.68 L270.60,228.48 L271.10,228.27 L271.60,228.04 L272.10,227.81 L272.60,227.57 L273.10,227.31 L273.60,227.04 L274.10,226.77 L274.60,226.48 L275.10,226.18 L275.60,225.87 L276.10,225.56 L276.60,225.24 L277.10,224.91 L277.60,224.57 L278.10,224.23 L278.60,223.88 L279.10,223.53" fill="none" stroke="#a8a8a8" stroke-width="1.0" stroke-linejoin="round" />
<path d="M188.60,231.38 L189.10,231.38 L189.60,231.38 L190.10,231.37 L190.60,231.37 L191.10,231.37 L191.60,231.36 L192.10,231.36 L192.60,231.35 L193.10,231.35 L193.60,231.34 L194.10,231.33 L194.60,231.33 L195.10,231.32 L195.60,231.31 L196.10,231.30 L196.60,231.29 L197.10,231.28 L197.60,231.27 L198.10,231.25 L198.60,231.24 L199.10,231.22 L199.60,231.20 L200.10,231.18 L200.60,231.16 L201.10,231.14 L201.60,231.12 L202.10,231.09 L202.60,231.06 L203.10,231.03 L203.60,231.00 L204.10,230.96 L204.60,230.92 L205.10,230.87 L205.60,230.82 L206.10,230.76 L206.60,230.70 L207.10,230.63 L207.60,230.54 L208.10,230.45 L208.60,230.34 L209.10,230.22 L209.60,230.09 L210.10,229.93 L210.60,229.75 L211.10,229.54 L211.60,229.30 L212.10,229.03 L212.60,228.72 L213.10,228.37 L213.60,227.97 L214.10,227.52 L214.60,227.01 L215.10,226.44 L215.60,225.80 L216.10,225.09 L216.60,224.31 L217.10,223.46 L217.60,222.52 L218.10,221.51 L218.60,220.41 L219.10,219.24 L219.60,218.00 L220.10,216.68 L220.60,215.30 L221.10,213.87 L221.60,212.40 L222.10,210.89 L222.60,209.36 L223.10,207.83 L223.60,206.32 L224.10,204.83 L224.60,203.39 L225.10,202.01 L225.60,200.73 L226.10,199.54 L226.60,198.47 L227.10,197.54 L227.60,196.75 L228.10,196.13 L228.60,195.67 L229.10,195.40 L229.60,195.30 L230.10,195.38 L230.60,195.64 L231.10,196.06 L231.60,196.65 L232.10,197.38 L232.60,198.26 L233.10,199.27 L233.60,200.40 L234.10,201.62 L234.60,202.93 L235.10,204.31 L235.60,205.74 L236.10,207.20 L236.60,208.69 L237.10,210.17 L237.60,211.64 L238.10,213.09 L238.60,214.51 L239.10,215.87 L239.60,217.18 L240.10,218.43 L240.60,219.62 L241.10,220.73 L241.60,221.77 L242.10,222.73 L242.60,223.62 L243.10,224.44 L243.60,225.18 L244.10,225.86 L244.60,226.47 L245.10,227.01 L245.60,227.50 L246.10,227.94 L246.60,228.33 L247.10,228.67 L247.60,228.97 L248.10,229.24 L248.60,229.47 L249.10,229.68 L249.60,229.85 L250.10,230.01 L250.60,230.14 L251.10,230.26 L251.60,230.37 L252.10,230.45 L252.60,230.53 L253.10,230.60 L253.60,230.66 L254.10,230.70 L254.60,230.75 L255.10,230.78 L255.60,230.81 L256.10,230.83 L256.60,230.85 L257.10,230.86 L257.60,230.87 L258.10,230.87 L258.60,230.87 L259.10,230.86 L259.60,230.85 L260.10,230.83 L260.60,230.80 L261.10,230.77 L261.60,230.74 L262.10,230.70 L262.60,230.65 L263.10,230.59 L263.60,230.53 L264.10,230.47 L264.60,230.39 L265.10,230.31 L265.60,230.22 L266.10,230.12 L266.60,230.01 L267.10,229.90 L267.60,229.77 L268.10,229.64 L268.60,229.50 L269.10,229.34 L269.60,229.18 L270.10,229.01 L270.60,228.83 L271.10,228.64 L271.60,228.44 L272.10,228.22 L272.60,228.00 L273.10,227.77 L273.60,227.53 L274.10,227.28 L274.60,227.02 L275.10,226.76 L275.60,226.48 L276.10,226.20 L276.60,225.91 L277.10,225.61 L277.60,225.31 L278.10,225.01 L278.60,224.70 L279.10,224.38" fill="none" stroke="#8a8a8a" stroke-width="1.0" stroke-linejoin="round" />
<path d="M188.60,231.80 L189.10,231.80 L189.60,231.80 L190.10,231.80 L190.60,231.80 L191.10,231.80 L191.60,231.80 L192.10,231.80 L192.60,231.80 L193.10,231.80 L193.60,231.80 L194.10,231.80 L194.60,231.80 L195.10,231.80 L195.60,231.80 L196.10,231.80 L196.60,231.80 L197.10,231.80 L197.60,231.80 L198.10,231.80 L198.60,231.80 L199.10,231.80 L199.60,231.80 L200.10,231.80 L200.60,231.80 L201.10,231.80 L201.60,231.80 L202.10,231.80 L202.60,231.80 L203.10,231.80 L203.60,231.80 L204.10,231.80 L204.60,231.80 L205.10,231.79 L205.60,231.79 L206.10,231.79 L206.60,231.79 L207.10,231.78 L207.60,231.78 L208.10,231.78 L208.60,231.77 L209.10,231.76 L209.60,231.75 L210.10,231.74 L210.60,231.73 L211.10,231.71 L211.60,231.69 L212.10,231.66 L212.60,231.63 L213.10,231.60 L213.60,231.56 L214.10,231.51 L214.60,231.45 L215.10,231.38 L215.60,231.31 L216.10,231.22 L216.60,231.12 L217.10,231.01 L217.60,230.88 L218.10,230.74 L218.60,230.58 L219.10,230.41 L219.60,230.21 L220.10,230.00 L220.60,229.77 L221.10,229.52 L221.60,229.25 L222.10,228.97 L222.60,228.66 L223.10,228.34 L223.60,228.01 L224.10,227.66 L224.60,227.30 L225.10,226.94 L225.60,226.57 L226.10,226.19 L226.60,225.82 L227.10,225.45 L227.60,225.09 L228.10,224.75 L228.60,224.42 L229.10,224.11 L229.60,223.83 L230.10,223.58 L230.60,223.35 L231.10,223.16 L231.60,223.01 L232.10,222.90 L232.60,222.83 L233.10,222.80 L233.60,222.81 L234.10,222.87 L234.60,222.96 L235.10,223.10 L235.60,223.27 L236.10,223.48 L236.60,223.72 L237.10,224.00 L237.60,224.29 L238.10,224.61 L238.60,224.95 L239.10,225.31 L239.60,225.67 L240.10,226.04 L240.60,226.41 L241.10,226.79 L241.60,227.16 L242.10,227.52 L242.60,227.87 L243.10,228.21 L243.60,228.53 L244.10,228.84 L244.60,229.14 L245.10,229.41 L245.60,229.67 L246.10,229.90 L246.60,230.12 L247.10,230.32 L247.60,230.50 L248.10,230.66 L248.60,230.81 L249.10,230.94 L249.60,231.05 L250.10,231.15 L250.60,231.24 L251.10,231.31 L251.60,231.38 L252.10,231.43 L252.60,231.48 L253.10,231.51 L253.60,231.54 L254.10,231.56 L254.60,231.57 L255.10,231.58 L255.60,231.58 L256.10,231.58 L256.60,231.57 L257.10,231.56 L257.60,231.54 L258.10,231.52 L258.60,231.50 L259.10,231.47 L259.60,231.43 L260.10,231.40 L260.60,231.35 L261.10,231.30 L261.60,231.25 L262.10,231.19 L262.60,231.13 L263.10,231.06 L263.60,230.98 L264.10,230.89 L264.60,230.80 L265.10,230.71 L265.60,230.60 L266.10,230.49 L266.60,230.36 L267.10,230.23 L267.60,230.09 L268.10,229.94 L268.60,229.78 L269.10,229.61 L269.60,229.44 L270.10,229.25 L270.60,229.05 L271.10,228.84 L271.60,228.62 L272.10,228.39 L272.60,228.15 L273.10,227.89 L273.60,227.63 L274.10,227.36 L274.60,227.08 L275.10,226.79 L275.60,226.49 L276.10,226.19 L276.60,225.87 L277.10,225.55 L277.60,225.23 L278.10,224.90 L278.60,224.56 L279.10,224.22" fill="none" stroke="#c0c0c0" stroke-width="1.1" stroke-linejoin="round" />
<path d="M188.60,232.40 L189.10,232.40 L189.60,232.40 L190.10,232.40 L190.60,232.40 L191.10,232.40 L191.60,232.40 L192.10,232.40 L192.60,232.40 L193.10,232.40 L193.60,232.40 L194.10,232.40 L194.60,232.40 L195.10,232.40 L195.60,232.40 L196.10,232.40 L196.60,232.40 L197.10,232.40 L197.60,232.39 L198.10,232.39 L198.60,232.39 L199.10,232.39 L199.60,232.39 L200.10,232.39 L200.60,232.39 L201.10,232.39 L201.60,232.39 L202.10,232.39 L202.60,232.39 L203.10,232.38 L203.60,232.38 L204.10,232.38 L204.60,232.38 L205.10,232.38 L205.60,232.37 L206.10,232.37 L206.60,232.36 L207.10,232.36 L207.60,232.35 L208.10,232.34 L208.60,232.33 L209.10,232.32 L209.60,232.31 L210.10,232.29 L210.60,232.27 L211.10,232.25 L211.60,232.22 L212.10,232.19 L212.60,232.15 L213.10,232.11 L213.60,232.06 L214.10,232.00 L214.60,231.93 L215.10,231.85 L215.60,231.76 L216.10,231.66 L216.60,231.54 L217.10,231.42 L217.60,231.27 L218.10,231.11 L218.60,230.94 L219.10,230.74 L219.60,230.53 L220.10,230.30 L220.60,230.05 L221.10,229.78 L221.60,229.50 L222.10,229.20 L222.60,228.88 L223.10,228.54 L223.60,228.19 L224.10,227.83 L224.60,227.46 L225.10,227.08 L225.60,226.70 L226.10,226.32 L226.60,225.94 L227.10,225.57 L227.60,225.21 L228.10,224.86 L228.60,224.53 L229.10,224.22 L229.60,223.94 L230.10,223.68 L230.60,223.46 L231.10,223.27 L231.60,223.12 L232.10,223.01 L232.60,222.93 L233.10,222.90 L233.60,222.91 L234.10,222.97 L234.60,223.06 L235.10,223.19 L235.60,223.36 L236.10,223.57 L236.60,223.81 L237.10,224.08 L237.60,224.37 L238.10,224.69 L238.60,225.03 L239.10,225.38 L239.60,225.75 L240.10,226.12 L240.60,226.50 L241.10,226.88 L241.60,227.25 L242.10,227.62 L242.60,227.98 L243.10,228.33 L243.60,228.67 L244.10,228.99 L244.60,229.30 L245.10,229.59 L245.60,229.86 L246.10,230.11 L246.60,230.34 L247.10,230.56 L247.60,230.75 L248.10,230.93 L248.60,231.09 L249.10,231.23 L249.60,231.36 L250.10,231.48 L250.60,231.57 L251.10,231.66 L251.60,231.73 L252.10,231.80 L252.60,231.85 L253.10,231.89 L253.60,231.92 L254.10,231.95 L254.60,231.97 L255.10,231.98 L255.60,231.99 L256.10,231.99 L256.60,231.98 L257.10,231.97 L257.60,231.96 L258.10,231.94 L258.60,231.91 L259.10,231.89 L259.60,231.85 L260.10,231.81 L260.60,231.77 L261.10,231.72 L261.60,231.67 L262.10,231.61 L262.60,231.54 L263.10,231.47 L263.60,231.39 L264.10,231.31 L264.60,231.22 L265.10,231.12 L265.60,231.01 L266.10,230.90 L266.60,230.77 L267.10,230.64 L267.60,230.50 L268.10,230.35 L268.60,230.19 L269.10,230.02 L269.60,229.84 L270.10,229.65 L270.60,229.45 L271.10,229.24 L271.60,229.02 L272.10,228.79 L272.60,228.55 L273.10,228.30 L273.60,228.04 L274.10,227.76 L274.60,227.48 L275.10,227.19 L275.60,226.90 L276.10,226.59 L276.60,226.28 L277.10,225.96 L277.60,225.63 L278.10,225.30 L278.60,224.96 L279.10,224.62" fill="none" stroke="#404040" stroke-width="1.1" stroke-dasharray="3,1.5,0.8,1.5" stroke-linejoin="round" />
<path d="M287.80,235.74 L288.30,235.67 L288.80,235.58 L289.30,235.46 L289.80,235.32 L290.30,235.15 L290.80,234.95 L291.30,234.71 L291.80,234.43 L292.30,234.10 L292.80,233.71 L293.30,233.28 L293.80,232.79 L294.30,232.23 L294.80,231.62 L295.30,230.95 L295.80,230.22 L296.30,229.44 L296.80,228.60 L297.30,227.72 L297.80,226.81 L298.30,225.87 L298.80,224.91 L299.30,223.95 L299.80,222.99 L300.30,222.05 L300.80,221.14 L301.30,220.27 L301.80,219.44 L302.30,218.67 L302.80,217.95 L303.30,217.31 L303.80,216.73 L304.30,216.22 L304.80,215.78 L305.30,215.41 L305.80,215.11 L306.30,214.88 L306.80,214.70 L307.30,214.59 L307.80,214.54 L308.30,214.54 L308.80,214.61 L309.30,214.73 L309.80,214.92 L310.30,215.17 L310.80,215.48 L311.30,215.87 L311.80,216.32 L312.30,216.84 L312.80,217.43 L313.30,218.09 L313.80,218.82 L314.30,219.60 L314.80,220.44 L315.30,221.32 L315.80,222.24 L316.30,223.19 L316.80,224.14 L317.30,225.11 L317.80,226.06 L318.30,227.00 L318.80,227.90 L319.30,228.77 L319.80,229.60 L320.30,230.37 L320.80,231.09 L321.30,231.75 L321.80,232.35 L322.30,232.89 L322.80,233.37 L323.30,233.80 L323.80,234.17 L324.30,234.49 L324.80,234.76 L325.30,234.99 L325.80,235.19 L326.30,235.35 L326.80,235.49 L327.30,235.60 L327.80,235.69 L328.30,235.76 L328.80,235.81 L329.30,235.86 L329.80,235.89 L330.30,235.92 L330.80,235.94 L331.30,235.96 L331.80,235.97 L332.30,235.99 L332.80,236.00 L333.30,236.01 L333.80,236.02 L334.30,236.03 L334.80,236.04 L335.30,236.05 L335.80,236.06 L336.30,236.07 L336.80,236.08 L337.30,236.09 L337.80,236.10 L338.30,236.11 L338.80,236.12 L339.30,236.13 L339.80,236.14 L340.30,236.15 L340.80,236.16 L341.30,236.17 L341.80,236.18 L342.30,236.19 L342.80,236.19 L343.30,236.20 L343.80,236.20 L344.30,236.20 L344.80,236.20 L345.30,236.19 L345.80,236.18 L346.30,236.17 L346.80,236.14 L347.30,236.12 L347.80,236.08 L348.30,236.03 L348.80,235.98 L349.30,235.91 L349.80,235.83 L350.30,235.74 L350.80,235.63 L351.30,235.50 L351.80,235.36 L352.30,235.19 L352.80,235.01 L353.30,234.80 L353.80,234.57 L354.30,234.32 L354.80,234.04 L355.30,233.74 L355.80,233.42 L356.30,233.08 L356.80,232.71 L357.30,232.33 L357.80,231.94 L358.30,231.53 L358.80,231.11 L359.30,230.70 L359.80,230.28 L360.30,229.87 L360.80,229.48 L361.30,229.10 L361.80,228.75 L362.30,228.43 L362.80,228.14 L363.30,227.89 L363.80,227.69 L364.30,227.53 L364.80,227.43 L365.30,227.37 L365.80,227.37 L366.30,227.42 L366.80,227.53 L367.30,227.68 L367.80,227.88 L368.30,228.13 L368.80,228.42 L369.30,228.74 L369.80,229.10 L370.30,229.48 L370.80,229.87 L371.30,230.29 L371.80,230.71 L372.30,231.13 L372.80,231.56 L373.30,231.97 L373.80,232.38 L374.30,232.77 L374.80,233.15 L375.30,233.50 L375.80,233.83 L376.30,234.15 L376.80,234.43 L377.30,234.70 L377.80,234.94 L378.30,235.16 L378.80,235.35 L379.30,235.52 L379.80,235.68 L380.30,235.81 L380.80,235.93 L381.30,236.04 L381.80,236.13 L382.30,236.20 L382.80,236.27 L383.30,236.33 L383.80,236.37 L384.30,236.42 L384.80,236.45 L385.30,236.48 L385.80,236.50 L386.30,236.53 L386.80,236.54 L387.30,236.56 L387.80,236.57 L388.30,236.59 L388.80,236.60 L389.30,236.61 L389.80,236.61 L390.30,236.62 L390.80,236.63 L391.30,236.64 L391.80,236.64 L392.30,236.65 L392.80,236.65 L393.30,236.66 L393.80,236.67 L394.30,236.67 L394.80,236.68 L395.30,236.68 L395.80,236.69 L396.30,236.69 L396.80,236.70 L397.30,236.70 L397.80,236.71 L398.30,236.71 L398.80,236.71 L399.30,236.72 L399.80,236.72 L400.30,236.73 L400.80,236.73 L401.30,236.74 L401.80,236.74 L402.30,236.74 L402.80,236.75 L403.30,236.75 L403.80,236.75 L404.30,236.76 L404.80,236.76 L405.30,236.76 L405.80,236.77 L406.30,236.77 L406.80,236.77 L407.30,236.77 L407.80,236.78 L408.30,236.78 L408.80,236.78 L409.30,236.78 L409.80,236.79 L410.30,236.79 L410.80,236.79 L411.30,236.79 L411.80,236.79 L412.30,236.79 L412.80,236.80 L413.30,236.80 L413.80,236.80 L414.30,236.80 L414.80,236.80 L415.30,236.80 L415.80,236.80 L416.30,236.80 L416.80,236.80" fill="none" stroke="#c8c8c8" stroke-width="1.1" stroke-linejoin="round" />
<path d="M287.80,225.89 L288.30,224.35 L288.80,222.55 L289.30,220.46 L289.80,218.05 L290.30,215.28 L290.80,212.12 L291.30,208.53 L291.80,204.46 L292.30,199.89 L292.80,194.79 L293.30,189.11 L293.80,182.84 L294.30,175.94 L294.80,168.41 L295.30,160.22 L295.80,151.39 L296.30,141.91 L296.80,131.81 L297.30,121.10 L297.80,109.84 L298.30,98.07 L298.80,85.86 L299.30,73.28 L299.80,60.42 L300.30,47.38 L300.80,34.27 L301.30,21.21 L301.80,8.33 L302.30,6.00 M314.05,6.00 L314.30,10.90 L314.80,23.83 L315.30,36.91 L315.80,50.01 L316.30,63.03 L316.80,75.84 L317.30,88.35 L317.80,100.48 L318.30,112.16 L318.80,123.32 L319.30,133.90 L319.80,143.89 L320.30,153.24 L320.80,161.94 L321.30,169.99 L321.80,177.40 L322.30,184.17 L322.80,190.33 L323.30,195.89 L323.80,200.89 L324.30,205.35 L324.80,209.32 L325.30,212.83 L325.80,215.91 L326.30,218.60 L326.80,220.95 L327.30,222.97 L327.80,224.72 L328.30,226.21 L328.80,227.48 L329.30,228.56 L329.80,229.47 L330.30,230.23 L330.80,230.87 L331.30,231.39 L331.80,231.83 L332.30,232.18 L332.80,232.47 L333.30,232.71 L333.80,232.90 L334.30,233.04 L334.80,233.16 L335.30,233.24 L335.80,233.31 L336.30,233.35 L336.80,233.37 L337.30,233.37 L337.80,233.35 L338.30,233.32 L338.80,233.26 L339.30,233.18 L339.80,233.08 L340.30,232.95 L340.80,232.79 L341.30,232.59 L341.80,232.34 L342.30,232.04 L342.80,231.67 L343.30,231.24 L343.80,230.72 L344.30,230.11 L344.80,229.39 L345.30,228.54 L345.80,227.55 L346.30,226.40 L346.80,225.08 L347.30,223.55 L347.80,221.81 L348.30,219.83 L348.80,217.58 L349.30,215.05 L349.80,212.22 L350.30,209.06 L350.80,205.56 L351.30,201.70 L351.80,197.47 L352.30,192.86 L352.80,187.86 L353.30,182.47 L353.80,176.69 L354.30,170.53 L354.80,164.01 L355.30,157.15 L355.80,149.97 L356.30,142.52 L356.80,134.83 L357.30,126.96 L357.80,118.96 L358.30,110.89 L358.80,102.82 L359.30,94.83 L359.80,86.98 L360.30,79.36 L360.80,72.05 L361.30,65.11 L361.80,58.65 L362.30,52.71 L362.80,47.39 L363.30,42.74 L363.80,38.81 L364.30,35.67 L364.80,33.34 L365.30,31.86 L365.80,31.25 L366.30,31.45 L366.80,32.34 L367.30,33.90 L367.80,36.12 L368.30,38.97 L368.80,42.43 L369.30,46.46 L369.80,51.03 L370.30,56.08 L370.80,61.58 L371.30,67.48 L371.80,73.71 L372.30,80.23 L372.80,86.98 L373.30,93.90 L373.80,100.95 L374.30,108.07 L374.80,115.21 L375.30,122.32 L375.80,129.36 L376.30,136.29 L376.80,143.06 L377.30,149.64 L377.80,156.02 L378.30,162.15 L378.80,168.02 L379.30,173.61 L379.80,178.91 L380.30,183.92 L380.80,188.62 L381.30,193.02 L381.80,197.11 L382.30,200.90 L382.80,204.40 L383.30,207.62 L383.80,210.56 L384.30,213.24 L384.80,215.67 L385.30,217.87 L385.80,219.85 L386.30,221.62 L386.80,223.21 L387.30,224.62 L387.80,225.86 L388.30,226.96 L388.80,227.93 L389.30,228.78 L389.80,229.52 L390.30,230.16 L390.80,230.72 L391.30,231.20 L391.80,231.61 L392.30,231.96 L392.80,232.26 L393.30,232.52 L393.80,232.73 L394.30,232.92 L394.80,233.07 L395.30,233.20 L395.80,233.31 L396.30,233.40 L396.80,233.47 L397.30,233.53 L397.80,233.58 L398.30,233.62 L398.80,233.66 L399.30,233.68 L399.80,233.71 L400.30,233.72 L400.80,233.74 L401.30,233.75 L401.80,233.76 L402.30,233.77 L402.80,233.77 L403.30,233.78 L403.80,233.78 L404.30,233.79 L404.80,233.79 L405.30,233.79 L405.80,233.79 L406.30,233.79 L406.80,233.79 L407.30,233.80 L407.80,233.80 L408.30,233.80 L408.80,233.80 L409.30,233.80 L409.80,233.80 L410.30,233.80 L410.80,233.80 L411.30,233.80 L411.80,233.80 L412.30,233.80 L412.80,233.80 L413.30,233.80 L413.80,233.80 L414.30,233.80 L414.80,233.80 L415.30,233.80 L415.80,233.80 L416.30,233.80 L416.80,233.80" fill="none" stroke="#d4d4d4" stroke-width="1.1" stroke-linejoin="round" />
<path d="M287.80,192.43 L288.30,187.27 L288.80,181.66 L289.30,175.59 L289.80,169.03 L290.30,161.99 L290.80,154.48 L291.30,146.49 L291.80,138.05 L292.30,129.16 L292.80,119.87 L293.30,110.19 L293.80,100.18 L294.30,89.87 L294.80,79.33 L295.30,68.62 L295.80,57.80 L296.30,46.95 L296.80,36.15 L297.30,25.49 L297.80,15.04 L298.30,6.00 M310.55,6.00 L310.80,15.05 L311.30,25.50 L311.80,36.17 L312.30,46.97 L312.80,57.82 L313.30,68.64 L313.80,79.35 L314.30,89.89 L314.80,100.20 L315.30,110.21 L315.80,119.89 L316.30,129.19 L316.80,138.07 L317.30,146.52 L317.80,154.50 L318.30,162.02 L318.80,169.06 L319.30,175.61 L319.80,181.69 L320.30,187.30 L320.80,192.46 L321.30,197.17 L321.80,201.46 L322.30,205.35 L322.80,208.86 L323.30,212.01 L323.80,214.83 L324.30,217.35 L324.80,219.57 L325.30,221.54 L325.80,223.27 L326.30,224.78 L326.80,226.10 L327.30,227.25 L327.80,228.24 L328.30,229.10 L328.80,229.83 L329.30,230.45 L329.80,230.98 L330.30,231.43 L330.80,231.81 L331.30,232.12 L331.80,232.38 L332.30,232.59 L332.80,232.76 L333.30,232.89 L333.80,232.99 L334.30,233.07 L334.80,233.11 L335.30,233.13 L335.80,233.12 L336.30,233.09 L336.80,233.03 L337.30,232.95 L337.80,232.83 L338.30,232.68 L338.80,232.49 L339.30,232.27 L339.80,231.99 L340.30,231.66 L340.80,231.27 L341.30,230.81 L341.80,230.27 L342.30,229.65 L342.80,228.94 L343.30,228.12 L343.80,227.18 L344.30,226.11 L344.80,224.91 L345.30,223.56 L345.80,222.06 L346.30,220.38 L346.80,218.54 L347.30,216.50 L347.80,214.28 L348.30,211.87 L348.80,209.26 L349.30,206.46 L349.80,203.46 L350.30,200.29 L350.80,196.93 L351.30,193.42 L351.80,189.76 L352.30,185.98 L352.80,182.09 L353.30,178.12 L353.80,174.11 L354.30,170.09 L354.80,166.09 L355.30,162.15 L355.80,158.30 L356.30,154.59 L356.80,151.05 L357.30,147.74 L357.80,144.67 L358.30,141.89 L358.80,139.44 L359.30,137.33 L359.80,135.61 L360.30,134.28 L360.80,133.38 L361.30,132.90 L361.80,132.85 L362.30,133.16 L362.80,133.80 L363.30,134.78 L363.80,136.08 L364.30,137.68 L364.80,139.58 L365.30,141.75 L365.80,144.17 L366.30,146.83 L366.80,149.69 L367.30,152.73 L367.80,155.93 L368.30,159.25 L368.80,162.67 L369.30,166.16 L369.80,169.70 L370.30,173.25 L370.80,176.81 L371.30,180.33 L371.80,183.81 L372.30,187.21 L372.80,190.54 L373.30,193.76 L373.80,196.86 L374.30,199.84 L374.80,202.68 L375.30,205.38 L375.80,207.94 L376.30,210.34 L376.80,212.59 L377.30,214.69 L377.80,216.64 L378.30,218.45 L378.80,220.10 L379.30,221.62 L379.80,223.01 L380.30,224.27 L380.80,225.42 L381.30,226.45 L381.80,227.37 L382.30,228.20 L382.80,228.93 L383.30,229.59 L383.80,230.16 L384.30,230.67 L384.80,231.12 L385.30,231.51 L385.80,231.85 L386.30,232.14 L386.80,232.40 L387.30,232.61 L387.80,232.80 L388.30,232.96 L388.80,233.10 L389.30,233.21 L389.80,233.31 L390.30,233.39 L390.80,233.46 L391.30,233.52 L391.80,233.57 L392.30,233.61 L392.80,233.64 L393.30,233.67 L393.80,233.69 L394.30,233.71 L394.80,233.73 L395.30,233.74 L395.80,233.75 L396.30,233.76 L396.80,233.76 L397.30,233.77 L397.80,233.77 L398.30,233.78 L398.80,233.78 L399.30,233.78 L399.80,233.79 L400.30,233.79 L400.80,233.79 L401.30,233.79 L401.80,233.79 L402.30,233.79 L402.80,233.79 L403.30,233.79 L403.80,233.79 L404.30,233.79 L404.80,233.80 L405.30,233.80 L405.80,233.80 L406.30,233.80 L406.80,233.80 L407.30,233.80 L407.80,233.80 L408.30,233.80 L408.80,233.80 L409.30,233.80 L409.80,233.80 L410.30,233.80 L410.80,233.80 L411.30,233.80 L411.80,233.80 L412.30,233.80 L412.80,233.80 L413.30,233.80 L413.80,233.80 L414.30,233.80 L414.80,233.80 L415.30,233.80 L415.80,233.80 L416.30,233.80 L416.80,233.80" fill="none" stroke="#c4c4c4" stroke-width="1.1" stroke-linejoin="round" />
<path d="M287.80,223.25 L288.30,221.43 L288.80,219.34 L289.30,216.96 L289.80,214.27 L290.30,211.22 L290.80,207.80 L291.30,203.98 L291.80,199.73 L292.30,195.02 L292.80,189.83 L293.30,184.14 L293.80,177.94 L294.30,171.20 L294.80,163.94 L295.30,156.14 L295.80,147.81 L296.30,138.96 L296.80,129.62 L297.30,119.81 L297.80,109.57 L298.30,98.96 L298.80,88.02 L299.30,76.82 L299.80,65.44 L300.30,53.95 L300.80,42.44 L301.30,31.01 L301.80,19.75 L302.30,8.77 L302.80,6.00 M314.05,6.00 L314.30,8.78 L314.80,19.77 L315.30,31.02 L315.80,42.46 L316.30,53.97 L316.80,65.46 L317.30,76.84 L317.80,88.04 L318.30,98.98 L318.80,109.60 L319.30,119.83 L319.80,129.64 L320.30,138.99 L320.80,147.83 L321.30,156.17 L321.80,163.97 L322.30,171.24 L322.80,177.97 L323.30,184.17 L323.80,189.86 L324.30,195.05 L324.80,199.76 L325.30,204.02 L325.80,207.84 L326.30,211.26 L326.80,214.30 L327.30,217.00 L327.80,219.38 L328.30,221.46 L328.80,223.28 L329.30,224.87 L329.80,226.24 L330.30,227.41 L330.80,228.42 L331.30,229.28 L331.80,230.01 L332.30,230.62 L332.80,231.13 L333.30,231.55 L333.80,231.90 L334.30,232.17 L334.80,232.39 L335.30,232.56 L335.80,232.68 L336.30,232.76 L336.80,232.80 L337.30,232.80 L337.80,232.77 L338.30,232.70 L338.80,232.60 L339.30,232.47 L339.80,232.29 L340.30,232.07 L340.80,231.81 L341.30,231.50 L341.80,231.13 L342.30,230.71 L342.80,230.22 L343.30,229.66 L343.80,229.01 L344.30,228.28 L344.80,227.46 L345.30,226.53 L345.80,225.50 L346.30,224.34 L346.80,223.05 L347.30,221.63 L347.80,220.07 L348.30,218.35 L348.80,216.48 L349.30,214.45 L349.80,212.25 L350.30,209.88 L350.80,207.34 L351.30,204.63 L351.80,201.75 L352.30,198.70 L352.80,195.50 L353.30,192.15 L353.80,188.67 L354.30,185.06 L354.80,181.34 L355.30,177.53 L355.80,173.65 L356.30,169.72 L356.80,165.78 L357.30,161.84 L357.80,157.93 L358.30,154.09 L358.80,150.34 L359.30,146.72 L359.80,143.25 L360.30,139.97 L360.80,136.90 L361.30,134.08 L361.80,131.53 L362.30,129.28 L362.80,127.35 L363.30,125.76 L363.80,124.52 L364.30,123.65 L364.80,123.15 L365.30,123.04 L365.80,123.25 L366.30,123.77 L366.80,124.59 L367.30,125.71 L367.80,127.11 L368.30,128.78 L368.80,130.71 L369.30,132.88 L369.80,135.29 L370.30,137.90 L370.80,140.70 L371.30,143.67 L371.80,146.78 L372.30,150.02 L372.80,153.36 L373.30,156.78 L373.80,160.27 L374.30,163.78 L374.80,167.32 L375.30,170.84 L375.80,174.35 L376.30,177.82 L376.80,181.23 L377.30,184.57 L377.80,187.82 L378.30,190.98 L378.80,194.03 L379.30,196.96 L379.80,199.78 L380.30,202.46 L380.80,205.02 L381.30,207.43 L381.80,209.71 L382.30,211.86 L382.80,213.87 L383.30,215.74 L383.80,217.49 L384.30,219.10 L384.80,220.59 L385.30,221.97 L385.80,223.23 L386.30,224.38 L386.80,225.43 L387.30,226.38 L387.80,227.24 L388.30,228.02 L388.80,228.72 L389.30,229.35 L389.80,229.91 L390.30,230.40 L390.80,230.85 L391.30,231.24 L391.80,231.59 L392.30,231.89 L392.80,232.16 L393.30,232.39 L393.80,232.59 L394.30,232.77 L394.80,232.92 L395.30,233.05 L395.80,233.17 L396.30,233.27 L396.80,233.35 L397.30,233.42 L397.80,233.48 L398.30,233.53 L398.80,233.58 L399.30,233.61 L399.80,233.65 L400.30,233.67 L400.80,233.69 L401.30,233.71 L401.80,233.73 L402.30,233.74 L402.80,233.75 L403.30,233.76 L403.80,233.77 L404.30,233.77 L404.80,233.78 L405.30,233.78 L405.80,233.78 L406.30,233.79 L406.80,233.79 L407.30,233.79 L407.80,233.79 L408.30,233.79 L408.80,233.80 L409.30,233.80 L409.80,233.80 L410.30,233.80 L410.80,233.80 L411.30,233.80 L411.80,233.80 L412.30,233.80 L412.80,233.80 L413.30,233.80 L413.80,233.80 L414.30,233.80 L414.80,233.80 L415.30,233.80 L415.80,233.80 L416.30,233.80 L416.80,233.80" fill="none" stroke="#a8a8a8" stroke-width="1.0" stroke-linejoin="round" />
<path d="M287.80,224.08 L288.30,222.32 L288.80,220.28 L289.30,217.95 L289.80,215.28 L290.30,212.25 L290.80,208.81 L291.30,204.94 L291.80,200.61 L292.30,195.77 L292.80,190.40 L293.30,184.47 L293.80,177.96 L294.30,170.84 L294.80,163.10 L295.30,154.73 L295.80,145.72 L296.30,136.10 L296.80,125.86 L297.30,115.03 L297.80,103.66 L298.30,91.77 L298.80,79.43 L299.30,66.71 L299.80,53.67 L300.30,40.42 L300.80,27.03 L301.30,13.63 L301.80,6.00 M316.05,6.00 L316.30,19.01 L316.80,32.41 L317.30,45.76 L317.80,58.94 L318.30,71.86 L318.80,84.44 L319.30,96.61 L319.80,108.30 L320.30,119.46 L320.80,130.05 L321.30,140.05 L321.80,149.43 L322.30,158.18 L322.80,166.30 L323.30,173.79 L323.80,180.67 L324.30,186.94 L324.80,192.65 L325.30,197.80 L325.80,202.43 L326.30,206.58 L326.80,210.27 L327.30,213.54 L327.80,216.42 L328.30,218.95 L328.80,221.15 L329.30,223.07 L329.80,224.72 L330.30,226.14 L330.80,227.36 L331.30,228.39 L331.80,229.26 L332.30,229.99 L332.80,230.59 L333.30,231.09 L333.80,231.49 L334.30,231.80 L334.80,232.04 L335.30,232.22 L335.80,232.33 L336.30,232.39 L336.80,232.40 L337.30,232.35 L337.80,232.26 L338.30,232.12 L338.80,231.92 L339.30,231.68 L339.80,231.37 L340.30,231.00 L340.80,230.56 L341.30,230.05 L341.80,229.45 L342.30,228.76 L342.80,227.97 L343.30,227.07 L343.80,226.04 L344.30,224.89 L344.80,223.59 L345.30,222.13 L345.80,220.51 L346.30,218.71 L346.80,216.71 L347.30,214.51 L347.80,212.10 L348.30,209.46 L348.80,206.60 L349.30,203.49 L349.80,200.13 L350.30,196.53 L350.80,192.67 L351.30,188.56 L351.80,184.21 L352.30,179.61 L352.80,174.78 L353.30,169.73 L353.80,164.48 L354.30,159.04 L354.80,153.44 L355.30,147.70 L355.80,141.86 L356.30,135.95 L356.80,129.99 L357.30,124.04 L357.80,118.13 L358.30,112.30 L358.80,106.60 L359.30,101.06 L359.80,95.75 L360.30,90.69 L360.80,85.94 L361.30,81.53 L361.80,77.51 L362.30,73.91 L362.80,70.76 L363.30,68.11 L363.80,65.96 L364.30,64.35 L364.80,63.28 L365.30,62.78 L365.80,62.82 L366.30,63.36 L366.80,64.40 L367.30,65.91 L367.80,67.89 L368.30,70.31 L368.80,73.17 L369.30,76.43 L369.80,80.08 L370.30,84.07 L370.80,88.37 L371.30,92.97 L371.80,97.81 L372.30,102.86 L372.80,108.09 L373.30,113.45 L373.80,118.92 L374.30,124.46 L374.80,130.03 L375.30,135.61 L375.80,141.15 L376.30,146.63 L376.80,152.02 L377.30,157.30 L377.80,162.45 L378.30,167.44 L378.80,172.26 L379.30,176.89 L379.80,181.33 L380.30,185.56 L380.80,189.58 L381.30,193.38 L381.80,196.96 L382.30,200.32 L382.80,203.46 L383.30,206.38 L383.80,209.10 L384.30,211.61 L384.80,213.92 L385.30,216.04 L385.80,217.98 L386.30,219.75 L386.80,221.36 L387.30,222.81 L387.80,224.13 L388.30,225.31 L388.80,226.36 L389.30,227.31 L389.80,228.15 L390.30,228.89 L390.80,229.55 L391.30,230.14 L391.80,230.65 L392.30,231.09 L392.80,231.48 L393.30,231.82 L393.80,232.12 L394.30,232.37 L394.80,232.59 L395.30,232.78 L395.80,232.94 L396.30,233.08 L396.80,233.19 L397.30,233.29 L397.80,233.38 L398.30,233.45 L398.80,233.51 L399.30,233.56 L399.80,233.60 L400.30,233.64 L400.80,233.67 L401.30,233.69 L401.80,233.71 L402.30,233.73 L402.80,233.74 L403.30,233.75 L403.80,233.76 L404.30,233.77 L404.80,233.77 L405.30,233.78 L405.80,233.78 L406.30,233.79 L406.80,233.79 L407.30,233.79 L407.80,233.79 L408.30,233.79 L408.80,233.79 L409.30,233.80 L409.80,233.80 L410.30,233.80 L410.80,233.80 L411.30,233.80 L411.80,233.80 L412.30,233.80 L412.80,233.80 L413.30,233.80 L413.80,233.80 L414.30,233.80 L414.80,233.80 L415.30,233.80 L415.80,233.80 L416.30,233.80 L416.80,233.80" fill="none" stroke="#404040" stroke-width="1.2" stroke-dasharray="3.5,1.5,0.8,1.5" stroke-linejoin="round" />
<path d="M429.50,235.40 L430.00,235.40 L430.50,235.40 L431.00,235.40 L431.50,235.40 L432.00,235.40 L432.50,235.40 L433.00,235.40 L433.50,235.40 L434.00,235.40 L434.50,235.40 L435.00,235.40 L435.50,235.40 L436.00,235.40 L436.50,235.40 L437.00,235.40 L437.50,235.40 L438.00,235.40 L438.50,235.40 L439.00,235.40 L439.50,235.40 L440.00,235.40 L440.50,235.40 L441.00,235.40 L441.50,235.40 L442.00,235.40 L442.50,235.40 L443.00,235.40 L443.50,235.40 L444.00,235.40 L444.50,235.40 L445.00,235.40 L445.50,235.40 L446.00,235.40 L446.50,235.39 L447.00,235.39 L447.50,235.39 L448.00,235.39 L448.50,235.38 L449.00,235.38 L449.50,235.37 L450.00,235.36 L450.50,235.35 L451.00,235.34 L451.50,235.32 L452.00,235.30 L452.50,235.28 L453.00,235.25 L453.50,235.22 L454.00,235.18 L454.50,235.13 L455.00,235.08 L455.50,235.02 L456.00,234.95 L456.50,234.88 L457.00,234.79 L457.50,234.70 L458.00,234.60 L458.50,234.49 L459.00,234.37 L459.50,234.25 L460.00,234.12 L460.50,233.98 L461.00,233.84 L461.50,233.70 L462.00,233.56 L462.50,233.42 L463.00,233.29 L463.50,233.16 L464.00,233.04 L464.50,232.93 L465.00,232.83 L465.50,232.75 L466.00,232.69 L466.50,232.64 L467.00,232.61 L467.50,232.60 L468.00,232.61 L468.50,232.64 L469.00,232.69 L469.50,232.75 L470.00,232.83 L470.50,232.93 L471.00,233.04 L471.50,233.16 L472.00,233.29 L472.50,233.42 L473.00,233.56 L473.50,233.70 L474.00,233.84 L474.50,233.98 L475.00,234.12 L475.50,234.25 L476.00,234.37 L476.50,234.49 L477.00,234.60 L477.50,234.70 L478.00,234.79 L478.50,234.88 L479.00,234.95 L479.50,235.02 L480.00,235.08 L480.50,235.13 L481.00,235.18 L481.50,235.22 L482.00,235.25 L482.50,235.28 L483.00,235.30 L483.50,235.32 L484.00,235.34 L484.50,235.35 L485.00,235.36 L485.50,235.37 L486.00,235.38 L486.50,235.38 L487.00,235.39 L487.50,235.39 L488.00,235.39 L488.50,235.39 L489.00,235.40 L489.50,235.40 L490.00,235.40 L490.50,235.40 L491.00,235.40 L491.50,235.40 L492.00,235.40 L492.50,235.40 L493.00,235.40 L493.50,235.40 L494.00,235.40 L494.50,235.40 L495.00,235.40 L495.50,235.40 L496.00,235.40 L496.50,235.40 L497.00,235.40 L497.50,235.40 L498.00,235.40 L498.50,235.40 L499.00,235.40 L499.50,235.40 L500.00,235.40 L500.50,235.40 L501.00,235.40 L501.50,235.40 L502.00,235.40 L502.50,235.40 L503.00,235.40 L503.50,235.40 L504.00,235.40 L504.50,235.40 L505.00,235.40 L505.50,235.40 L506.00,235.40 L506.50,235.40 L507.00,235.40 L507.50,235.40 L508.00,235.40 L508.50,235.40 L509.00,235.40 L509.50,235.40 L510.00,235.40 L510.50,235.40 L511.00,235.40 L511.50,235.40 L512.00,235.40 L512.50,235.40 L513.00,235.40 L513.50,235.40 L514.00,235.40 L514.50,235.40 L515.00,235.40 L515.50,235.40 L516.00,235.40 L516.50,235.40 L517.00,235.40 L517.50,235.40 L518.00,235.40 L518.50,235.40 L519.00,235.40 L519.50,235.40 L520.00,235.40 L520.50,235.40 L521.00,235.40 L521.50,235.40 L522.00,235.40 L522.50,235.40 L523.00,235.40 L523.50,235.40 L524.00,235.40 L524.50,235.40 L525.00,235.40 L525.50,235.40 L526.00,235.40 L526.50,235.40 L527.00,235.40 L527.50,235.40 L528.00,235.40 L528.50,235.40 L529.00,235.40 L529.50,235.40 L530.00,235.40" fill="none" stroke="#c8c8c8" stroke-width="1.1" stroke-linejoin="round" />
<path d="M429.50,234.59 L430.00,234.59 L430.50,234.59 L431.00,234.58 L431.50,234.58 L432.00,234.57 L432.50,234.57 L433.00,234.56 L433.50,234.55 L434.00,234.54 L434.50,234.52 L435.00,234.51 L435.50,234.49 L436.00,234.46 L436.50,234.44 L437.00,234.40 L437.50,234.36 L438.00,234.32 L438.50,234.26 L439.00,234.19 L439.50,234.12 L440.00,234.03 L440.50,233.92 L441.00,233.80 L441.50,233.66 L442.00,233.49 L442.50,233.30 L443.00,233.09 L443.50,232.84 L444.00,232.55 L444.50,232.23 L445.00,231.86 L445.50,231.44 L446.00,230.96 L446.50,230.43 L447.00,229.83 L447.50,229.16 L448.00,228.41 L448.50,227.57 L449.00,226.65 L449.50,225.62 L450.00,224.49 L450.50,223.25 L451.00,221.89 L451.50,220.40 L452.00,218.78 L452.50,217.02 L453.00,215.11 L453.50,213.05 L454.00,210.84 L454.50,208.47 L455.00,205.94 L455.50,203.25 L456.00,200.39 L456.50,197.37 L457.00,194.18 L457.50,190.84 L458.00,187.35 L458.50,183.71 L459.00,179.93 L459.50,176.02 L460.00,172.00 L460.50,167.88 L461.00,163.67 L461.50,159.39 L462.00,155.06 L462.50,150.69 L463.00,146.32 L463.50,141.97 L464.00,137.65 L464.50,133.39 L465.00,129.22 L465.50,125.17 L466.00,121.26 L466.50,117.51 L467.00,113.95 L467.50,110.60 L468.00,107.50 L468.50,104.65 L469.00,102.09 L469.50,99.82 L470.00,97.88 L470.50,96.26 L471.00,94.99 L471.50,94.08 L472.00,93.53 L472.50,93.34 L473.00,93.58 L473.50,94.32 L474.00,95.55 L474.50,97.25 L475.00,99.41 L475.50,102.01 L476.00,105.01 L476.50,108.39 L477.00,112.11 L477.50,116.14 L478.00,120.43 L478.50,124.95 L479.00,129.66 L479.50,134.51 L480.00,139.47 L480.50,144.49 L481.00,149.54 L481.50,154.57 L482.00,159.56 L482.50,164.46 L483.00,169.26 L483.50,173.93 L484.00,178.43 L484.50,182.76 L485.00,186.90 L485.50,190.83 L486.00,194.54 L486.50,198.03 L487.00,201.29 L487.50,204.32 L488.00,207.13 L488.50,209.71 L489.00,212.07 L489.50,214.22 L490.00,216.17 L490.50,217.93 L491.00,219.51 L491.50,220.91 L492.00,222.16 L492.50,223.26 L493.00,224.22 L493.50,225.07 L494.00,225.80 L494.50,226.43 L495.00,226.98 L495.50,227.45 L496.00,227.85 L496.50,228.19 L497.00,228.49 L497.50,228.74 L498.00,228.95 L498.50,229.14 L499.00,229.31 L499.50,229.46 L500.00,229.59 L500.50,229.72 L501.00,229.84 L501.50,229.96 L502.00,230.08 L502.50,230.20 L503.00,230.32 L503.50,230.44 L504.00,230.57 L504.50,230.70 L505.00,230.84 L505.50,230.98 L506.00,231.12 L506.50,231.27 L507.00,231.42 L507.50,231.57 L508.00,231.73 L508.50,231.88 L509.00,232.04 L509.50,232.19 L510.00,232.35 L510.50,232.50 L511.00,232.65 L511.50,232.79 L512.00,232.93 L512.50,233.07 L513.00,233.20 L513.50,233.33 L514.00,233.45 L514.50,233.56 L515.00,233.67 L515.50,233.77 L516.00,233.86 L516.50,233.95 L517.00,234.04 L517.50,234.11 L518.00,234.18 L518.50,234.25 L519.00,234.31 L519.50,234.36 L520.00,234.41 L520.50,234.46 L521.00,234.50 L521.50,234.54 L522.00,234.57 L522.50,234.60 L523.00,234.63 L523.50,234.65 L524.00,234.67 L524.50,234.69 L525.00,234.70 L525.50,234.72 L526.00,234.73 L526.50,234.74 L527.00,234.75 L527.50,234.76 L528.00,234.76 L528.50,234.77 L529.00,234.77 L529.50,234.78 L530.00,234.78" fill="none" stroke="#c8c8c8" stroke-width="1.1" stroke-linejoin="round" />
<path d="M429.50,234.59 L430.00,234.59 L430.50,234.59 L431.00,234.59 L431.50,234.58 L432.00,234.58 L432.50,234.57 L433.00,234.57 L433.50,234.56 L434.00,234.55 L434.50,234.54 L435.00,234.52 L435.50,234.50 L436.00,234.48 L436.50,234.46 L437.00,234.42 L437.50,234.39 L438.00,234.34 L438.50,234.29 L439.00,234.22 L439.50,234.15 L440.00,234.06 L440.50,233.95 L441.00,233.83 L441.50,233.69 L442.00,233.52 L442.50,233.33 L443.00,233.11 L443.50,232.85 L444.00,232.56 L444.50,232.23 L445.00,231.86 L445.50,231.43 L446.00,230.95 L446.50,230.42 L447.00,229.81 L447.50,229.14 L448.00,228.40 L448.50,227.58 L449.00,226.67 L449.50,225.68 L450.00,224.60 L450.50,223.42 L451.00,222.14 L451.50,220.76 L452.00,219.28 L452.50,217.69 L453.00,216.00 L453.50,214.20 L454.00,212.31 L454.50,210.32 L455.00,208.23 L455.50,206.06 L456.00,203.81 L456.50,201.49 L457.00,199.11 L457.50,196.68 L458.00,194.21 L458.50,191.72 L459.00,189.23 L459.50,186.75 L460.00,184.29 L460.50,181.88 L461.00,179.53 L461.50,177.26 L462.00,175.09 L462.50,173.04 L463.00,171.12 L463.50,169.35 L464.00,167.76 L464.50,166.34 L465.00,165.11 L465.50,164.09 L466.00,163.29 L466.50,162.71 L467.00,162.36 L467.50,162.24 L468.00,162.40 L468.50,162.92 L469.00,163.77 L469.50,164.94 L470.00,166.42 L470.50,168.18 L471.00,170.21 L471.50,172.47 L472.00,174.93 L472.50,177.56 L473.00,180.33 L473.50,183.20 L474.00,186.14 L474.50,189.12 L475.00,192.10 L475.50,195.06 L476.00,197.97 L476.50,200.81 L477.00,203.55 L477.50,206.18 L478.00,208.68 L478.50,211.05 L479.00,213.27 L479.50,215.33 L480.00,217.25 L480.50,219.01 L481.00,220.62 L481.50,222.09 L482.00,223.41 L482.50,224.61 L483.00,225.68 L483.50,226.64 L484.00,227.50 L484.50,228.26 L485.00,228.94 L485.50,229.54 L486.00,230.08 L486.50,230.56 L487.00,230.98 L487.50,231.36 L488.00,231.70 L488.50,232.01 L489.00,232.29 L489.50,232.54 L490.00,232.77 L490.50,232.98 L491.00,233.17 L491.50,233.34 L492.00,233.50 L492.50,233.65 L493.00,233.78 L493.50,233.90 L494.00,234.01 L494.50,234.11 L495.00,234.20 L495.50,234.28 L496.00,234.35 L496.50,234.41 L497.00,234.46 L497.50,234.51 L498.00,234.55 L498.50,234.59 L499.00,234.62 L499.50,234.65 L500.00,234.67 L500.50,234.69 L501.00,234.70 L501.50,234.72 L502.00,234.73 L502.50,234.74 L503.00,234.74 L503.50,234.75 L504.00,234.76 L504.50,234.76 L505.00,234.76 L505.50,234.77 L506.00,234.77 L506.50,234.77 L507.00,234.77 L507.50,234.77 L508.00,234.78 L508.50,234.78 L509.00,234.78 L509.50,234.78 L510.00,234.78 L510.50,234.78 L511.00,234.78 L511.50,234.78 L512.00,234.78 L512.50,234.79 L513.00,234.79 L513.50,234.79 L514.00,234.79 L514.50,234.79 L515.00,234.79 L515.50,234.79 L516.00,234.79 L516.50,234.79 L517.00,234.79 L517.50,234.79 L518.00,234.79 L518.50,234.79 L519.00,234.79 L519.50,234.79 L520.00,234.80 L520.50,234.80 L521.00,234.80 L521.50,234.80 L522.00,234.80 L522.50,234.80 L523.00,234.80 L523.50,234.80 L524.00,234.80 L524.50,234.80 L525.00,234.80 L525.50,234.80 L526.00,234.80 L526.50,234.80 L527.00,234.80 L527.50,234.80 L528.00,234.80 L528.50,234.80 L529.00,234.80 L529.50,234.80 L530.00,234.80" fill="none" stroke="#c8c8c8" stroke-width="1.1" stroke-linejoin="round" />
<path d="M429.50,234.60 L430.00,234.60 L430.50,234.59 L431.00,234.59 L431.50,234.59 L432.00,234.59 L432.50,234.59 L433.00,234.58 L433.50,234.58 L434.00,234.57 L434.50,234.57 L435.00,234.56 L435.50,234.55 L436.00,234.54 L436.50,234.53 L437.00,234.51 L437.50,234.49 L438.00,234.47 L438.50,234.44 L439.00,234.41 L439.50,234.37 L440.00,234.32 L440.50,234.27 L441.00,234.20 L441.50,234.13 L442.00,234.04 L442.50,233.93 L443.00,233.81 L443.50,233.67 L444.00,233.51 L444.50,233.32 L445.00,233.11 L445.50,232.87 L446.00,232.59 L446.50,232.28 L447.00,231.92 L447.50,231.52 L448.00,231.07 L448.50,230.57 L449.00,230.00 L449.50,229.38 L450.00,228.68 L450.50,227.91 L451.00,227.07 L451.50,226.14 L452.00,225.13 L452.50,224.02 L453.00,222.82 L453.50,221.53 L454.00,220.13 L454.50,218.63 L455.00,217.02 L455.50,215.31 L456.00,213.50 L456.50,211.58 L457.00,209.55 L457.50,207.43 L458.00,205.22 L458.50,202.91 L459.00,200.53 L459.50,198.07 L460.00,195.54 L460.50,192.97 L461.00,190.35 L461.50,187.70 L462.00,185.03 L462.50,182.37 L463.00,179.72 L463.50,177.11 L464.00,174.54 L464.50,172.04 L465.00,169.62 L465.50,167.31 L466.00,165.12 L466.50,163.06 L467.00,161.15 L467.50,159.41 L468.00,157.84 L468.50,156.48 L469.00,155.31 L469.50,154.37 L470.00,153.64 L470.50,153.14 L471.00,152.88 L471.50,152.86 L472.00,153.16 L472.50,153.80 L473.00,154.77 L473.50,156.06 L474.00,157.65 L474.50,159.52 L475.00,161.65 L475.50,164.01 L476.00,166.58 L476.50,169.33 L477.00,172.22 L477.50,175.22 L478.00,178.31 L478.50,181.45 L479.00,184.61 L479.50,187.77 L480.00,190.89 L480.50,193.96 L481.00,196.95 L481.50,199.85 L482.00,202.62 L482.50,205.28 L483.00,207.79 L483.50,210.15 L484.00,212.36 L484.50,214.42 L485.00,216.31 L485.50,218.05 L486.00,219.64 L486.50,221.07 L487.00,222.37 L487.50,223.52 L488.00,224.55 L488.50,225.46 L489.00,226.26 L489.50,226.96 L490.00,227.57 L490.50,228.09 L491.00,228.55 L491.50,228.94 L492.00,229.27 L492.50,229.56 L493.00,229.81 L493.50,230.02 L494.00,230.21 L494.50,230.38 L495.00,230.53 L495.50,230.67 L496.00,230.80 L496.50,230.93 L497.00,231.05 L497.50,231.17 L498.00,231.29 L498.50,231.42 L499.00,231.54 L499.50,231.67 L500.00,231.80 L500.50,231.94 L501.00,232.07 L501.50,232.21 L502.00,232.35 L502.50,232.49 L503.00,232.63 L503.50,232.76 L504.00,232.90 L504.50,233.03 L505.00,233.16 L505.50,233.29 L506.00,233.41 L506.50,233.53 L507.00,233.64 L507.50,233.74 L508.00,233.84 L508.50,233.93 L509.00,234.02 L509.50,234.10 L510.00,234.18 L510.50,234.25 L511.00,234.31 L511.50,234.37 L512.00,234.42 L512.50,234.47 L513.00,234.51 L513.50,234.55 L514.00,234.58 L514.50,234.61 L515.00,234.64 L515.50,234.66 L516.00,234.68 L516.50,234.70 L517.00,234.71 L517.50,234.73 L518.00,234.74 L518.50,234.75 L519.00,234.76 L519.50,234.76 L520.00,234.77 L520.50,234.77 L521.00,234.78 L521.50,234.78 L522.00,234.79 L522.50,234.79 L523.00,234.79 L523.50,234.79 L524.00,234.79 L524.50,234.79 L525.00,234.80 L525.50,234.80 L526.00,234.80 L526.50,234.80 L527.00,234.80 L527.50,234.80 L528.00,234.80 L528.50,234.80 L529.00,234.80 L529.50,234.80 L530.00,234.80" fill="none" stroke="#a8a8a8" stroke-width="1.0" stroke-linejoin="round" />
<path d="M429.50,234.60 L430.00,234.60 L430.50,234.60 L431.00,234.59 L431.50,234.59 L432.00,234.59 L432.50,234.59 L433.00,234.59 L433.50,234.58 L434.00,234.58 L434.50,234.57 L435.00,234.57 L435.50,234.56 L436.00,234.55 L436.50,234.53 L437.00,234.52 L437.50,234.50 L438.00,234.48 L438.50,234.45 L439.00,234.42 L439.50,234.38 L440.00,234.33 L440.50,234.28 L441.00,234.21 L441.50,234.13 L442.00,234.04 L442.50,233.93 L443.00,233.80 L443.50,233.65 L444.00,233.48 L444.50,233.28 L445.00,233.05 L445.50,232.78 L446.00,232.48 L446.50,232.12 L447.00,231.72 L447.50,231.27 L448.00,230.75 L448.50,230.17 L449.00,229.51 L449.50,228.77 L450.00,227.95 L450.50,227.03 L451.00,226.01 L451.50,224.88 L452.00,223.63 L452.50,222.26 L453.00,220.76 L453.50,219.12 L454.00,217.33 L454.50,215.40 L455.00,213.31 L455.50,211.06 L456.00,208.65 L456.50,206.08 L457.00,203.34 L457.50,200.43 L458.00,197.37 L458.50,194.15 L459.00,190.77 L459.50,187.25 L460.00,183.60 L460.50,179.82 L461.00,175.94 L461.50,171.96 L462.00,167.90 L462.50,163.78 L463.00,159.63 L463.50,155.47 L464.00,151.31 L464.50,147.19 L465.00,143.13 L465.50,139.16 L466.00,135.30 L466.50,131.58 L467.00,128.04 L467.50,124.68 L468.00,121.55 L468.50,118.67 L469.00,116.06 L469.50,113.73 L470.00,111.72 L470.50,110.03 L471.00,108.68 L471.50,107.68 L472.00,107.05 L472.50,106.78 L473.00,106.94 L473.50,107.67 L474.00,108.98 L474.50,110.83 L475.00,113.21 L475.50,116.07 L476.00,119.40 L476.50,123.13 L477.00,127.22 L477.50,131.62 L478.00,136.28 L478.50,141.15 L479.00,146.17 L479.50,151.28 L480.00,156.43 L480.50,161.58 L481.00,166.68 L481.50,171.68 L482.00,176.55 L482.50,181.26 L483.00,185.77 L483.50,190.06 L484.00,194.12 L484.50,197.93 L485.00,201.48 L485.50,204.76 L486.00,207.79 L486.50,210.55 L487.00,213.05 L487.50,215.31 L488.00,217.34 L488.50,219.14 L489.00,220.73 L489.50,222.13 L490.00,223.35 L490.50,224.41 L491.00,225.32 L491.50,226.10 L492.00,226.77 L492.50,227.33 L493.00,227.80 L493.50,228.20 L494.00,228.53 L494.50,228.81 L495.00,229.05 L495.50,229.25 L496.00,229.42 L496.50,229.56 L497.00,229.70 L497.50,229.82 L498.00,229.93 L498.50,230.04 L499.00,230.15 L499.50,230.26 L500.00,230.37 L500.50,230.48 L501.00,230.60 L501.50,230.73 L502.00,230.86 L502.50,231.00 L503.00,231.14 L503.50,231.28 L504.00,231.43 L504.50,231.58 L505.00,231.73 L505.50,231.88 L506.00,232.04 L506.50,232.19 L507.00,232.35 L507.50,232.50 L508.00,232.64 L508.50,232.79 L509.00,232.93 L509.50,233.06 L510.00,233.20 L510.50,233.32 L511.00,233.44 L511.50,233.55 L512.00,233.66 L512.50,233.76 L513.00,233.86 L513.50,233.95 L514.00,234.03 L514.50,234.11 L515.00,234.18 L515.50,234.25 L516.00,234.31 L516.50,234.36 L517.00,234.41 L517.50,234.46 L518.00,234.50 L518.50,234.53 L519.00,234.57 L519.50,234.60 L520.00,234.62 L520.50,234.65 L521.00,234.67 L521.50,234.69 L522.00,234.70 L522.50,234.72 L523.00,234.73 L523.50,234.74 L524.00,234.75 L524.50,234.76 L525.00,234.76 L525.50,234.77 L526.00,234.77 L526.50,234.78 L527.00,234.78 L527.50,234.79 L528.00,234.79 L528.50,234.79 L529.00,234.79 L529.50,234.79 L530.00,234.79" fill="none" stroke="#404040" stroke-width="1.2" stroke-dasharray="3.5,1.5,0.8,1.5" stroke-linejoin="round" />
<circle cx="116.5" cy="141.5" r="8.75" fill="#000"/>
<text transform="translate(116.50,146.11) scale(0.92,1)" font-family="Liberation Sans" font-size="12.8" text-anchor="middle" font-weight="bold" font-style="normal" fill="#fff" >C</text>
<circle cx="252.0" cy="203.5" r="8.75" fill="#000"/>
<text transform="translate(252.00,208.11) scale(0.92,1)" font-family="Liberation Sans" font-size="12.8" text-anchor="middle" font-weight="bold" font-style="normal" fill="#fff" >D</text>
<circle cx="347.6" cy="35.7" r="8.75" fill="#000"/>
<text transform="translate(347.60,40.31) scale(0.92,1)" font-family="Liberation Sans" font-size="12.8" text-anchor="middle" font-weight="bold" font-style="normal" fill="#fff" >E</text>
<circle cx="454.5" cy="95.4" r="8.75" fill="#000"/>
<text transform="translate(454.50,100.01) scale(0.92,1)" font-family="Liberation Sans" font-size="12.8" text-anchor="middle" font-weight="bold" font-style="normal" fill="#fff" >F</text>
<text transform="translate(130.00,126.00) scale(0.86,1)" font-family="Liberation Sans" font-size="10.6" fill="#000" stroke="#000" stroke-width="0.55">T<tspan font-size="7.8" dx="0.6" dy="2.5">3</tspan></text>
<text transform="translate(177.90,150.00) scale(0.86,1)" font-family="Liberation Sans" font-size="10.6" fill="#000" stroke="#000" stroke-width="0.55">T<tspan font-size="7.8" dx="0.6" dy="2.5">6</tspan></text>
<line x1="143.50" y1="145.30" x2="172.20" y2="145.30" stroke="#888" stroke-width="1" />
<text transform="translate(143.00,240.40) scale(0.74,1)" font-family="Liberation Sans" font-size="10.6" fill="#000" stroke="#000" stroke-width="0.55">ES</text>
<text transform="translate(238.80,185.50) scale(0.86,1)" font-family="Liberation Sans" font-size="10.6" fill="#000" stroke="#000" stroke-width="0.55">T<tspan font-size="7.8" dx="0.6" dy="2.5">3</tspan></text>
<text transform="translate(185.30,201.00) scale(0.86,1)" font-family="Liberation Sans" font-size="10.6" fill="#000" stroke="#000" stroke-width="0.55">T<tspan font-size="7.8" dx="0.6" dy="2.5">6</tspan></text>
<line x1="199.40" y1="195.30" x2="229.00" y2="195.30" stroke="#888" stroke-width="1" />
<text transform="translate(372.30,31.20) scale(0.86,1)" font-family="Liberation Sans" font-size="10.6" fill="#000" stroke="#000" stroke-width="0.55">T<tspan font-size="7.8" dx="0.6" dy="2.5">1</tspan></text>
<text transform="translate(393.00,66.90) scale(0.86,1)" font-family="Liberation Sans" font-size="10.6" fill="#000" stroke="#000" stroke-width="0.55">T<tspan font-size="7.8" dx="0.6" dy="2.5">0</tspan></text>
<line x1="366.50" y1="62.50" x2="388.40" y2="62.50" stroke="#888" stroke-width="1" />
<text transform="translate(416.40,116.60) scale(0.86,1)" font-family="Liberation Sans" font-size="10.6" fill="#000" stroke="#000" stroke-width="0.55">T<tspan font-size="7.8" dx="0.6" dy="2.5">0</tspan></text>
<text transform="translate(362.30,121.80) scale(0.86,1)" font-family="Liberation Sans" font-size="10.6" fill="#000" stroke="#000" stroke-width="0.55">T<tspan font-size="7.8" dx="0.6" dy="2.5">3</tspan></text>
<text transform="translate(302.80,216.90) scale(0.74,1)" font-family="Liberation Sans" font-size="10.6" fill="#000" stroke="#000" stroke-width="0.55">ES</text>
<text transform="translate(475.40,90.90) scale(0.86,1)" font-family="Liberation Sans" font-size="10.6" fill="#000" stroke="#000" stroke-width="0.55">T<tspan font-size="7.8" dx="0.6" dy="2.5">1</tspan></text>
<text transform="translate(468.20,151.40) scale(0.88,1)" font-family="Liberation Sans" font-size="10.9" fill="#000" stroke="#000" stroke-width="0.55">T3</text>
<text transform="translate(471.70,215.80) scale(0.86,1)" font-family="Liberation Sans" font-size="10.4" fill="#000" stroke="#000" stroke-width="0.55">T6</text>
<text transform="translate(465.40,233.40) scale(0.74,1)" font-family="Liberation Sans" font-size="10.6" fill="#000" stroke="#000" stroke-width="0.55">ES</text>
<line x1="74.90" y1="329.80" x2="74.90" y2="602.80" stroke="#000" stroke-width="1.65" />
<line x1="74.10" y1="602.00" x2="522.70" y2="602.00" stroke="#000" stroke-width="1.65" />
<line x1="69.60" y1="602.00" x2="74.90" y2="602.00" stroke="#000" stroke-width="1.5" />
<line x1="70.70" y1="590.68" x2="74.90" y2="590.68" stroke="#000" stroke-width="1.3" />
<line x1="70.70" y1="579.37" x2="74.90" y2="579.37" stroke="#000" stroke-width="1.3" />
<line x1="70.70" y1="568.05" x2="74.90" y2="568.05" stroke="#000" stroke-width="1.3" />
<line x1="69.60" y1="556.73" x2="79.90" y2="556.73" stroke="#000" stroke-width="1.5" />
<line x1="70.70" y1="545.42" x2="74.90" y2="545.42" stroke="#000" stroke-width="1.3" />
<line x1="70.70" y1="534.10" x2="74.90" y2="534.10" stroke="#000" stroke-width="1.3" />
<line x1="70.70" y1="522.78" x2="74.90" y2="522.78" stroke="#000" stroke-width="1.3" />
<line x1="69.60" y1="511.47" x2="79.90" y2="511.47" stroke="#000" stroke-width="1.5" />
<line x1="70.70" y1="500.15" x2="74.90" y2="500.15" stroke="#000" stroke-width="1.3" />
<line x1="70.70" y1="488.84" x2="74.90" y2="488.84" stroke="#000" stroke-width="1.3" />
<line x1="70.70" y1="477.52" x2="74.90" y2="477.52" stroke="#000" stroke-width="1.3" />
<line x1="69.60" y1="466.20" x2="79.90" y2="466.20" stroke="#000" stroke-width="1.5" />
<line x1="70.70" y1="454.89" x2="74.90" y2="454.89" stroke="#000" stroke-width="1.3" />
<line x1="70.70" y1="443.57" x2="74.90" y2="443.57" stroke="#000" stroke-width="1.3" />
<line x1="70.70" y1="432.25" x2="74.90" y2="432.25" stroke="#000" stroke-width="1.3" />
<line x1="69.60" y1="420.94" x2="79.90" y2="420.94" stroke="#000" stroke-width="1.5" />
<line x1="70.70" y1="409.62" x2="74.90" y2="409.62" stroke="#000" stroke-width="1.3" />
<line x1="70.70" y1="398.30" x2="74.90" y2="398.30" stroke="#000" stroke-width="1.3" />
<line x1="70.70" y1="386.99" x2="74.90" y2="386.99" stroke="#000" stroke-width="1.3" />
<line x1="69.60" y1="375.67" x2="79.90" y2="375.67" stroke="#000" stroke-width="1.5" />
<line x1="70.70" y1="364.35" x2="74.90" y2="364.35" stroke="#000" stroke-width="1.3" />
<line x1="70.70" y1="353.04" x2="74.90" y2="353.04" stroke="#000" stroke-width="1.3" />
<line x1="70.70" y1="341.72" x2="74.90" y2="341.72" stroke="#000" stroke-width="1.3" />
<line x1="69.60" y1="330.40" x2="79.90" y2="330.40" stroke="#000" stroke-width="1.5" />
<text transform="translate(59.90,607.90) scale(1.12,1)" font-family="Liberation Sans" font-size="16.8" text-anchor="end" font-weight="normal" font-style="normal" fill="#000"  stroke="#000" stroke-width="0.3">0</text>
<text transform="translate(59.90,562.63) scale(1.12,1)" font-family="Liberation Sans" font-size="16.8" text-anchor="end" font-weight="normal" font-style="normal" fill="#000"  stroke="#000" stroke-width="0.3">2</text>
<text transform="translate(59.90,517.37) scale(1.12,1)" font-family="Liberation Sans" font-size="16.8" text-anchor="end" font-weight="normal" font-style="normal" fill="#000"  stroke="#000" stroke-width="0.3">4</text>
<text transform="translate(59.90,472.10) scale(1.12,1)" font-family="Liberation Sans" font-size="16.8" text-anchor="end" font-weight="normal" font-style="normal" fill="#000"  stroke="#000" stroke-width="0.3">6</text>
<text transform="translate(59.90,426.84) scale(1.12,1)" font-family="Liberation Sans" font-size="16.8" text-anchor="end" font-weight="normal" font-style="normal" fill="#000"  stroke="#000" stroke-width="0.3">8</text>
<text transform="translate(59.90,381.57) scale(1.12,1)" font-family="Liberation Sans" font-size="16.8" text-anchor="end" font-weight="normal" font-style="normal" fill="#000"  stroke="#000" stroke-width="0.3">10</text>
<text transform="translate(59.90,336.30) scale(1.12,1)" font-family="Liberation Sans" font-size="16.8" text-anchor="end" font-weight="normal" font-style="normal" fill="#000"  stroke="#000" stroke-width="0.3">12</text>
<line x1="74.90" y1="602.00" x2="74.90" y2="607.70" stroke="#000" stroke-width="1.5" />
<line x1="89.80" y1="602.00" x2="89.80" y2="606.30" stroke="#000" stroke-width="1.35" />
<line x1="104.70" y1="602.00" x2="104.70" y2="606.30" stroke="#000" stroke-width="1.35" />
<line x1="119.60" y1="602.00" x2="119.60" y2="606.30" stroke="#000" stroke-width="1.35" />
<line x1="134.50" y1="602.00" x2="134.50" y2="606.30" stroke="#000" stroke-width="1.35" />
<line x1="149.40" y1="597.50" x2="149.40" y2="607.70" stroke="#000" stroke-width="1.5" />
<line x1="164.30" y1="602.00" x2="164.30" y2="606.30" stroke="#000" stroke-width="1.35" />
<line x1="179.20" y1="602.00" x2="179.20" y2="606.30" stroke="#000" stroke-width="1.35" />
<line x1="194.10" y1="602.00" x2="194.10" y2="606.30" stroke="#000" stroke-width="1.35" />
<line x1="209.00" y1="602.00" x2="209.00" y2="606.30" stroke="#000" stroke-width="1.35" />
<line x1="223.90" y1="597.50" x2="223.90" y2="607.70" stroke="#000" stroke-width="1.5" />
<line x1="238.80" y1="602.00" x2="238.80" y2="606.30" stroke="#000" stroke-width="1.35" />
<line x1="253.70" y1="602.00" x2="253.70" y2="606.30" stroke="#000" stroke-width="1.35" />
<line x1="268.60" y1="602.00" x2="268.60" y2="606.30" stroke="#000" stroke-width="1.35" />
<line x1="283.50" y1="602.00" x2="283.50" y2="606.30" stroke="#000" stroke-width="1.35" />
<line x1="298.40" y1="597.50" x2="298.40" y2="607.70" stroke="#000" stroke-width="1.5" />
<line x1="313.30" y1="602.00" x2="313.30" y2="606.30" stroke="#000" stroke-width="1.35" />
<line x1="328.20" y1="602.00" x2="328.20" y2="606.30" stroke="#000" stroke-width="1.35" />
<line x1="343.10" y1="602.00" x2="343.10" y2="606.30" stroke="#000" stroke-width="1.35" />
<line x1="358.00" y1="602.00" x2="358.00" y2="606.30" stroke="#000" stroke-width="1.35" />
<line x1="372.90" y1="597.50" x2="372.90" y2="607.70" stroke="#000" stroke-width="1.5" />
<line x1="387.80" y1="602.00" x2="387.80" y2="606.30" stroke="#000" stroke-width="1.35" />
<line x1="402.70" y1="602.00" x2="402.70" y2="606.30" stroke="#000" stroke-width="1.35" />
<line x1="417.60" y1="602.00" x2="417.60" y2="606.30" stroke="#000" stroke-width="1.35" />
<line x1="432.50" y1="602.00" x2="432.50" y2="606.30" stroke="#000" stroke-width="1.35" />
<line x1="447.40" y1="597.50" x2="447.40" y2="607.70" stroke="#000" stroke-width="1.5" />
<line x1="462.30" y1="602.00" x2="462.30" y2="606.30" stroke="#000" stroke-width="1.35" />
<line x1="477.20" y1="602.00" x2="477.20" y2="606.30" stroke="#000" stroke-width="1.35" />
<line x1="492.10" y1="602.00" x2="492.10" y2="606.30" stroke="#000" stroke-width="1.35" />
<line x1="507.00" y1="602.00" x2="507.00" y2="606.30" stroke="#000" stroke-width="1.35" />
<line x1="521.90" y1="597.50" x2="521.90" y2="607.70" stroke="#000" stroke-width="1.5" />
<text transform="translate(74.90,629.10) scale(1.12,1)" font-family="Liberation Sans" font-size="16.8" text-anchor="middle" font-weight="normal" font-style="normal" fill="#000"  stroke="#000" stroke-width="0.3">0</text>
<text transform="translate(149.40,629.10) scale(1.12,1)" font-family="Liberation Sans" font-size="16.8" text-anchor="middle" font-weight="normal" font-style="normal" fill="#000"  stroke="#000" stroke-width="0.3">10</text>
<text transform="translate(223.90,629.10) scale(1.12,1)" font-family="Liberation Sans" font-size="16.8" text-anchor="middle" font-weight="normal" font-style="normal" fill="#000"  stroke="#000" stroke-width="0.3">20</text>
<text transform="translate(298.40,629.10) scale(1.12,1)" font-family="Liberation Sans" font-size="16.8" text-anchor="middle" font-weight="normal" font-style="normal" fill="#000"  stroke="#000" stroke-width="0.3">30</text>
<text transform="translate(372.90,629.10) scale(1.12,1)" font-family="Liberation Sans" font-size="16.8" text-anchor="middle" font-weight="normal" font-style="normal" fill="#000"  stroke="#000" stroke-width="0.3">40</text>
<text transform="translate(447.40,629.10) scale(1.12,1)" font-family="Liberation Sans" font-size="16.8" text-anchor="middle" font-weight="normal" font-style="normal" fill="#000"  stroke="#000" stroke-width="0.3">50</text>
<text transform="translate(521.90,629.10) scale(1.12,1)" font-family="Liberation Sans" font-size="16.8" text-anchor="middle" font-weight="normal" font-style="normal" fill="#000"  stroke="#000" stroke-width="0.3">60</text>
<text x="268.70" y="654.30" font-family="Liberation Serif" font-size="20.4" text-anchor="start" font-weight="bold" font-style="italic" fill="#000" >t</text>
<text x="274.40" y="659.80" font-family="Liberation Serif" font-size="12.8" text-anchor="start" font-weight="bold" font-style="italic" fill="#000" >r</text>
<text x="285.10" y="654.40" font-family="Liberation Sans" font-size="19.5" text-anchor="start" font-weight="normal" font-style="normal" fill="#000"  stroke="#000" stroke-width="0.3">/</text>
<text transform="translate(295.60,654.20) scale(1.09,1)" font-family="Liberation Sans" font-size="18.6" text-anchor="start" font-weight="normal" font-style="normal" fill="#000"  stroke="#000" stroke-width="0.3">min</text>
<text transform="translate(27.6,475.4) rotate(-90) scale(1.1,1)" font-family="Liberation Sans" font-size="18" stroke="#000" stroke-width="0.4" text-anchor="middle"><tspan font-family="Liberation Serif" font-style="italic" font-weight="bold">I</tspan> (MCount)</text>
<text x="92.80" y="329.70" font-family="Liberation Sans" font-size="12.4" text-anchor="start" font-weight="bold" font-style="normal" fill="#000" >A</text>
<line x1="97.50" y1="601.10" x2="97.50" y2="549.30" stroke="#a0a0a0" stroke-width="0.9" />
<line x1="99.50" y1="601.10" x2="99.50" y2="490.40" stroke="#a0a0a0" stroke-width="0.9" />
<line x1="100.50" y1="601.10" x2="100.50" y2="553.80" stroke="#a0a0a0" stroke-width="0.9" />
<line x1="102.00" y1="601.10" x2="102.00" y2="372.70" stroke="#a0a0a0" stroke-width="1.3" />
<line x1="110.00" y1="601.10" x2="110.00" y2="439.60" stroke="#a0a0a0" stroke-width="1.3" />
<line x1="118.50" y1="601.10" x2="118.50" y2="571.30" stroke="#a0a0a0" stroke-width="0.9" />
<line x1="129.50" y1="601.10" x2="129.50" y2="587.00" stroke="#a0a0a0" stroke-width="0.9" />
<line x1="120.50" y1="601.10" x2="120.50" y2="595.80" stroke="#a0a0a0" stroke-width="0.9" />
<line x1="123.50" y1="601.10" x2="123.50" y2="594.60" stroke="#a0a0a0" stroke-width="0.9" />
<line x1="133.50" y1="601.10" x2="133.50" y2="598.00" stroke="#a0a0a0" stroke-width="0.9" />
<line x1="140.50" y1="601.10" x2="140.50" y2="595.10" stroke="#a0a0a0" stroke-width="0.9" />
<line x1="144.50" y1="601.10" x2="144.50" y2="597.10" stroke="#a0a0a0" stroke-width="0.9" />
<line x1="159.50" y1="601.10" x2="159.50" y2="599.20" stroke="#a0a0a0" stroke-width="0.9" />
<line x1="166.50" y1="601.10" x2="166.50" y2="593.80" stroke="#a0a0a0" stroke-width="0.9" />
<line x1="174.50" y1="601.10" x2="174.50" y2="596.80" stroke="#a0a0a0" stroke-width="0.9" />
<line x1="177.50" y1="601.10" x2="177.50" y2="599.00" stroke="#a0a0a0" stroke-width="0.9" />
<line x1="201.50" y1="601.10" x2="201.50" y2="522.20" stroke="#a0a0a0" stroke-width="0.9" />
<line x1="237.50" y1="601.10" x2="237.50" y2="559.30" stroke="#a0a0a0" stroke-width="0.9" />
<line x1="112.50" y1="601.10" x2="112.50" y2="598.20" stroke="#a0a0a0" stroke-width="0.9" />
<line x1="114.50" y1="601.10" x2="114.50" y2="598.50" stroke="#a0a0a0" stroke-width="0.9" />
<line x1="106.50" y1="601.10" x2="106.50" y2="598.80" stroke="#a0a0a0" stroke-width="0.9" />
<path d="M96.00,600.50 L96.60,596.00 L97.00,590.00 L97.60,598.00 L98.20,586.00 L98.60,597.00 L100.20,589.00 L100.80,597.50 L101.20,594.00 L103.00,600.50" fill="none" stroke="#b4b4b4" stroke-width="0.8" stroke-linejoin="round" />
<line x1="102.60" y1="584.00" x2="102.90" y2="596.50" stroke="#777" stroke-width="1.0" />
<circle cx="100.8" cy="596.5" r="0.7" fill="#666"/><circle cx="104.3" cy="598.6" r="0.7" fill="#555"/>
<path d="M403.00,600.40 L420.00,599.80 L435.00,598.80 L448.00,597.40 L456.00,596.20 L465.00,594.90 L475.00,594.00 L490.00,594.10 L522.50,594.40" fill="none" stroke="#b8b8b8" stroke-width="1.1" stroke-linejoin="round" />
<line x1="160.75" y1="290.10" x2="160.75" y2="502.90" stroke="#000" stroke-width="1.5" />
<line x1="160.15" y1="502.40" x2="510.55" y2="502.40" stroke="#000" stroke-width="1.5" />
<line x1="157.00" y1="502.40" x2="160.75" y2="502.40" stroke="#000" stroke-width="1.3" />
<line x1="157.20" y1="491.81" x2="160.75" y2="491.81" stroke="#000" stroke-width="1.2" />
<line x1="157.20" y1="481.22" x2="160.75" y2="481.22" stroke="#000" stroke-width="1.2" />
<line x1="157.20" y1="470.63" x2="160.75" y2="470.63" stroke="#000" stroke-width="1.2" />
<line x1="157.00" y1="460.04" x2="165.00" y2="460.04" stroke="#000" stroke-width="1.3" />
<line x1="157.20" y1="449.45" x2="160.75" y2="449.45" stroke="#000" stroke-width="1.2" />
<line x1="157.20" y1="438.86" x2="160.75" y2="438.86" stroke="#000" stroke-width="1.2" />
<line x1="157.20" y1="428.27" x2="160.75" y2="428.27" stroke="#000" stroke-width="1.2" />
<line x1="157.00" y1="417.68" x2="165.00" y2="417.68" stroke="#000" stroke-width="1.3" />
<line x1="157.20" y1="407.09" x2="160.75" y2="407.09" stroke="#000" stroke-width="1.2" />
<line x1="157.20" y1="396.50" x2="160.75" y2="396.50" stroke="#000" stroke-width="1.2" />
<line x1="157.20" y1="385.91" x2="160.75" y2="385.91" stroke="#000" stroke-width="1.2" />
<line x1="157.00" y1="375.32" x2="165.00" y2="375.32" stroke="#000" stroke-width="1.3" />
<line x1="157.20" y1="364.73" x2="160.75" y2="364.73" stroke="#000" stroke-width="1.2" />
<line x1="157.20" y1="354.14" x2="160.75" y2="354.14" stroke="#000" stroke-width="1.2" />
<line x1="157.20" y1="343.55" x2="160.75" y2="343.55" stroke="#000" stroke-width="1.2" />
<line x1="157.00" y1="332.96" x2="165.00" y2="332.96" stroke="#000" stroke-width="1.3" />
<line x1="157.20" y1="322.37" x2="160.75" y2="322.37" stroke="#000" stroke-width="1.2" />
<line x1="157.20" y1="311.78" x2="160.75" y2="311.78" stroke="#000" stroke-width="1.2" />
<line x1="157.20" y1="301.19" x2="160.75" y2="301.19" stroke="#000" stroke-width="1.2" />
<line x1="157.00" y1="290.60" x2="165.00" y2="290.60" stroke="#000" stroke-width="1.3" />
<text transform="translate(148.70,507.10) scale(1.06,1)" font-family="Liberation Sans" font-size="12.9" text-anchor="end" font-weight="normal" font-style="normal" fill="#000"  stroke="#000" stroke-width="0.3">0</text>
<text transform="translate(148.70,464.74) scale(1.06,1)" font-family="Liberation Sans" font-size="12.9" text-anchor="end" font-weight="normal" font-style="normal" fill="#000"  stroke="#000" stroke-width="0.3">0.2</text>
<text transform="translate(148.70,422.38) scale(1.06,1)" font-family="Liberation Sans" font-size="12.9" text-anchor="end" font-weight="normal" font-style="normal" fill="#000"  stroke="#000" stroke-width="0.3">0.4</text>
<text transform="translate(148.70,380.02) scale(1.06,1)" font-family="Liberation Sans" font-size="12.9" text-anchor="end" font-weight="normal" font-style="normal" fill="#000"  stroke="#000" stroke-width="0.3">0.6</text>
<text transform="translate(148.70,337.66) scale(1.06,1)" font-family="Liberation Sans" font-size="12.9" text-anchor="end" font-weight="normal" font-style="normal" fill="#000"  stroke="#000" stroke-width="0.3">0.8</text>
<text transform="translate(148.70,295.30) scale(1.06,1)" font-family="Liberation Sans" font-size="12.9" text-anchor="end" font-weight="normal" font-style="normal" fill="#000"  stroke="#000" stroke-width="0.3">1</text>
<line x1="160.75" y1="502.40" x2="160.75" y2="507.40" stroke="#000" stroke-width="1.3" />
<line x1="178.21" y1="502.40" x2="178.21" y2="506.40" stroke="#000" stroke-width="1.2" />
<line x1="195.67" y1="502.40" x2="195.67" y2="506.40" stroke="#000" stroke-width="1.2" />
<line x1="213.13" y1="502.40" x2="213.13" y2="506.40" stroke="#000" stroke-width="1.2" />
<line x1="230.59" y1="502.40" x2="230.59" y2="506.40" stroke="#000" stroke-width="1.2" />
<line x1="248.05" y1="498.40" x2="248.05" y2="507.40" stroke="#000" stroke-width="1.3" />
<line x1="265.51" y1="502.40" x2="265.51" y2="506.40" stroke="#000" stroke-width="1.2" />
<line x1="282.97" y1="502.40" x2="282.97" y2="506.40" stroke="#000" stroke-width="1.2" />
<line x1="300.43" y1="502.40" x2="300.43" y2="506.40" stroke="#000" stroke-width="1.2" />
<line x1="317.89" y1="502.40" x2="317.89" y2="506.40" stroke="#000" stroke-width="1.2" />
<line x1="335.35" y1="498.40" x2="335.35" y2="507.40" stroke="#000" stroke-width="1.3" />
<line x1="352.81" y1="502.40" x2="352.81" y2="506.40" stroke="#000" stroke-width="1.2" />
<line x1="370.27" y1="502.40" x2="370.27" y2="506.40" stroke="#000" stroke-width="1.2" />
<line x1="387.73" y1="502.40" x2="387.73" y2="506.40" stroke="#000" stroke-width="1.2" />
<line x1="405.19" y1="502.40" x2="405.19" y2="506.40" stroke="#000" stroke-width="1.2" />
<line x1="422.65" y1="498.40" x2="422.65" y2="507.40" stroke="#000" stroke-width="1.3" />
<line x1="440.11" y1="502.40" x2="440.11" y2="506.40" stroke="#000" stroke-width="1.2" />
<line x1="457.57" y1="502.40" x2="457.57" y2="506.40" stroke="#000" stroke-width="1.2" />
<line x1="475.03" y1="502.40" x2="475.03" y2="506.40" stroke="#000" stroke-width="1.2" />
<line x1="492.49" y1="502.40" x2="492.49" y2="506.40" stroke="#000" stroke-width="1.2" />
<line x1="509.95" y1="498.40" x2="509.95" y2="507.40" stroke="#000" stroke-width="1.3" />
<text transform="translate(160.75,523.90) scale(1.06,1)" font-family="Liberation Sans" font-size="12.9" text-anchor="middle" font-weight="normal" font-style="normal" fill="#000"  stroke="#000" stroke-width="0.3">4</text>
<text transform="translate(248.05,523.90) scale(1.06,1)" font-family="Liberation Sans" font-size="12.9" text-anchor="middle" font-weight="normal" font-style="normal" fill="#000"  stroke="#000" stroke-width="0.3">5</text>
<text transform="translate(335.35,523.90) scale(1.06,1)" font-family="Liberation Sans" font-size="12.9" text-anchor="middle" font-weight="normal" font-style="normal" fill="#000"  stroke="#000" stroke-width="0.3">6</text>
<text transform="translate(422.65,523.90) scale(1.06,1)" font-family="Liberation Sans" font-size="12.9" text-anchor="middle" font-weight="normal" font-style="normal" fill="#000"  stroke="#000" stroke-width="0.3">7</text>
<text transform="translate(509.95,523.90) scale(1.06,1)" font-family="Liberation Sans" font-size="12.9" text-anchor="middle" font-weight="normal" font-style="normal" fill="#000"  stroke="#000" stroke-width="0.3">8</text>
<text x="175.20" y="323.90" font-family="Liberation Sans" font-size="12.0" text-anchor="start" font-weight="bold" font-style="normal" fill="#000" >B</text>
<path d="M162.70,476.40 L164.40,462.00 L165.60,468.80 L166.80,485.70 L168.10,492.40 L169.80,491.60 L172.40,493.30 L174.90,492.40 L177.40,493.80 L179.10,494.40 L181.60,493.30 L184.20,495.50 L186.70,495.80 L189.20,495.50 L191.80,493.30 L192.60,492.40 L194.30,494.10 L196.00,495.30 L197.70,489.00 L199.40,479.70 L200.60,485.70 L201.60,490.70 L202.70,490.40 L204.40,491.20 L205.60,477.20 L207.50,449.40 L208.70,460.30 L210.00,484.00 L211.20,492.40 L212.90,495.00 L214.60,494.10 L216.30,477.20 L217.60,420.00 L218.30,291.00 M222.20,291.00 L222.80,420.00 L224.20,460.30 L225.50,476.40 L227.20,480.60 L228.90,489.90 L230.30,488.20 L231.50,489.00 L233.10,493.30 L236.50,494.40 L240.70,495.80 L243.30,475.50 L245.00,452.70 L246.10,465.40 L247.50,490.70 L250.10,494.10 L253.40,495.50 L256.80,495.00 L259.40,493.30 L261.00,494.40 L263.60,493.30 L265.30,485.70 L266.60,463.70 L267.30,451.90 L268.10,465.40 L269.50,489.00 L271.20,495.50 L274.60,496.60 L277.10,495.80 L279.60,493.30 L281.30,494.10 L284.70,495.80 L288.10,495.50 L290.60,494.10 L293.10,495.80 L295.70,496.60 L297.70,493.30 L298.70,484.00 L299.40,478.60 L300.20,484.00 L301.20,494.10 L303.30,495.80 L305.00,492.80 L306.10,494.40 L308.30,495.80 L310.90,495.50 L312.50,494.10 L314.20,495.80 L315.90,495.00 L317.30,485.70 L318.00,420.00 L318.60,291.00 M321.20,291.00 L321.50,420.00 L321.80,468.80 L323.00,485.70 L324.40,491.60 L327.70,495.00 L330.00,496.50 L332.80,495.20 L334.70,498.40 L339.50,497.50 L343.30,496.00 L345.50,488.00 L347.10,465.30 L348.20,442.50 L349.30,465.30 L350.80,491.80 L353.10,495.20 L354.60,482.30 L356.00,470.60 L357.10,480.40 L358.40,493.70 L361.30,496.00 L364.10,493.70 L366.00,490.80 L367.90,491.80 L369.80,490.80 L371.70,489.90 L374.00,494.60 L377.00,474.70 L378.30,446.30 L379.60,430.20 L380.80,455.80 L382.10,489.90 L384.00,494.60 L385.90,489.90 L387.20,459.60 L388.40,437.20 L389.70,459.60 L391.00,488.00 L393.50,494.60 L397.30,496.00 L401.00,496.50 L404.80,496.00 L408.10,492.70 L410.50,488.40 L412.40,489.90 L414.30,495.60 L417.20,497.50 L420.00,497.80 L425.00,497.00 L430.00,497.50 L436.30,496.30 L438.80,492.50 L440.50,488.80 L442.50,492.50 L445.00,497.50 L446.50,477.50 L447.50,415.00 L449.00,361.30 L450.00,415.00 L451.30,485.00 L452.50,496.30 L453.80,490.00 L455.00,465.00 L456.30,448.80 L457.50,465.00 L458.80,490.00 L460.50,497.00 L465.00,498.00 L475.00,497.50 L482.50,497.00 L487.50,496.30 L491.30,497.00 L496.30,496.30 L498.00,487.50 L499.30,475.00 L500.50,462.00 L501.80,480.00 L503.00,496.30 L506.30,497.50 L509.00,498.00" fill="none" stroke="#c4c4c4" stroke-width="1.0" stroke-linejoin="round" />
<circle cx="260.3" cy="440.9" r="8.75" fill="#000"/>
<text transform="translate(260.30,445.51) scale(0.92,1)" font-family="Liberation Sans" font-size="12.8" text-anchor="middle" font-weight="bold" font-style="normal" fill="#fff" >C</text>
<circle cx="306.4" cy="465.5" r="8.6" fill="#000"/>
<text transform="translate(306.40,470.11) scale(0.92,1)" font-family="Liberation Sans" font-size="12.8" text-anchor="middle" font-weight="bold" font-style="normal" fill="#fff" >D</text>
<circle cx="462.5" cy="437.5" r="8.75" fill="#000"/>
<text transform="translate(462.50,442.11) scale(0.92,1)" font-family="Liberation Sans" font-size="12.8" text-anchor="middle" font-weight="bold" font-style="normal" fill="#fff" >E</text>
<circle cx="495.0" cy="449.5" r="8.75" fill="#000"/>
<text transform="translate(495.00,454.11) scale(0.92,1)" font-family="Liberation Sans" font-size="12.8" text-anchor="middle" font-weight="bold" font-style="normal" fill="#fff" >F</text>
</svg>
</body></html>
